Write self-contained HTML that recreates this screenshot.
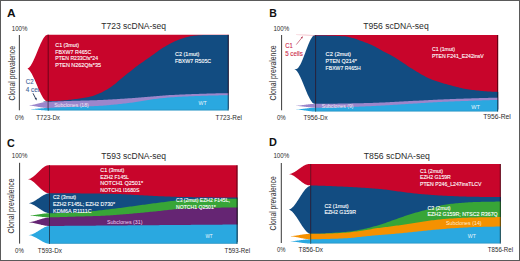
<!DOCTYPE html>
<html><head><meta charset="utf-8"><style>
html,body{margin:0;padding:0;background:#fff;}
svg{display:block;font-family:"Liberation Sans",sans-serif;}
</style></head><body>
<svg width="520" height="261" viewBox="0 0 520 261">
<rect x="0" y="0" width="520" height="261" fill="#fff"/>
<text x="6.9" y="16.6" font-size="11.2" fill="#111" font-weight="bold" text-anchor="start" textLength="8.6" lengthAdjust="spacingAndGlyphs">A</text>
<text x="11.8" y="30.6" font-size="7" fill="#2b2b2b" font-weight="normal" text-anchor="start" textLength="15.7" lengthAdjust="spacingAndGlyphs">100%</text>
<text x="101.2" y="28.8" font-size="8.4" fill="#2b2b2b" font-weight="normal" text-anchor="start" textLength="64.9" lengthAdjust="spacingAndGlyphs">T723 scDNA-seq</text>
<rect x="18.85" y="35" width="1" height="75.3" fill="#3a3a3a"/>
<text transform="translate(14.6,73.25) rotate(-90)" x="0" y="0" font-size="8.2" fill="#2b2b2b" text-anchor="middle" textLength="54.5" lengthAdjust="spacingAndGlyphs">Clonal prevalence</text>
<text x="15" y="119.6" font-size="6.6" fill="#2b2b2b" font-weight="normal" text-anchor="start" textLength="8.8" lengthAdjust="spacingAndGlyphs">0%</text>
<text x="36.2" y="119.6" font-size="6.6" fill="#2b2b2b" font-weight="normal" text-anchor="start" textLength="23.8" lengthAdjust="spacingAndGlyphs">T723-Dx</text>
<text x="215.6" y="119.7" font-size="6.6" fill="#2b2b2b" font-weight="normal" text-anchor="start" textLength="26.3" lengthAdjust="spacingAndGlyphs">T723-Rel</text>
<text x="25.8" y="84.0" font-size="6.6" fill="#41649a" font-weight="normal" text-anchor="start" textLength="7.8" lengthAdjust="spacingAndGlyphs" stroke="#41649a" stroke-width="0.12">C2</text>
<text x="25.8" y="92.1" font-size="6.6" fill="#41649a" font-weight="normal" text-anchor="start" textLength="18.0" lengthAdjust="spacingAndGlyphs" stroke="#41649a" stroke-width="0.12">4 cells</text>
<line x1="33.0" y1="93.3" x2="35.8" y2="98.8" stroke="#1b2a4a" stroke-width="0.9"/>
<polygon points="36.6,100.6 34.6,98.6 36.6,97.7" fill="#1b2a4a"/>
<polygon points="28.20,109.20 28.71,109.19 29.21,109.18 29.72,109.17 30.22,109.15 30.73,109.13 31.23,109.11 31.74,109.08 32.24,109.05 32.75,109.02 33.25,108.99 33.76,108.95 34.26,108.91 34.77,108.88 35.27,108.84 35.78,108.79 36.28,108.75 36.79,108.71 37.29,108.67 37.80,108.62 38.30,108.58 38.81,108.53 39.31,108.49 39.82,108.45 40.32,108.41 40.83,108.36 41.33,108.32 41.84,108.29 42.34,108.25 42.85,108.21 43.35,108.18 43.86,108.15 44.36,108.12 44.87,108.09 45.37,108.07 45.88,108.05 46.38,108.03 46.89,108.02 47.39,108.01 47.90,108.00 48.40,108.00 48.40,110.50 47.90,110.50 47.39,110.49 46.89,110.48 46.38,110.47 45.88,110.45 45.37,110.43 44.87,110.40 44.36,110.37 43.86,110.34 43.35,110.31 42.85,110.27 42.34,110.23 41.84,110.19 41.33,110.15 40.83,110.11 40.32,110.06 39.82,110.01 39.31,109.97 38.81,109.92 38.30,109.87 37.80,109.83 37.29,109.78 36.79,109.73 36.28,109.69 35.78,109.64 35.27,109.59 34.77,109.55 34.26,109.51 33.76,109.47 33.25,109.43 32.75,109.39 32.24,109.36 31.74,109.33 31.23,109.30 30.73,109.27 30.22,109.25 29.72,109.23 29.21,109.22 28.71,109.21 28.20,109.20" fill="#2aa8e0"/>
<polygon points="27.60,105.50 28.12,105.48 28.64,105.45 29.16,105.40 29.68,105.35 30.20,105.29 30.72,105.21 31.24,105.13 31.76,105.04 32.28,104.95 32.81,104.84 33.33,104.73 33.85,104.62 34.37,104.50 34.89,104.38 35.41,104.25 35.93,104.12 36.45,103.99 36.97,103.85 37.49,103.72 38.01,103.58 38.53,103.45 39.05,103.31 39.57,103.18 40.09,103.05 40.61,102.92 41.13,102.80 41.65,102.68 42.17,102.57 42.69,102.46 43.22,102.35 43.74,102.26 44.26,102.17 44.78,102.09 45.30,102.01 45.82,101.95 46.34,101.90 46.86,101.85 47.38,101.82 47.90,101.80 48.40,101.80 48.40,108.00 47.90,108.00 47.38,107.99 46.86,107.96 46.34,107.94 45.82,107.90 45.30,107.86 44.78,107.81 44.26,107.75 43.74,107.69 43.22,107.63 42.69,107.56 42.17,107.48 41.65,107.40 41.13,107.32 40.61,107.24 40.09,107.15 39.57,107.07 39.05,106.98 38.53,106.89 38.01,106.80 37.49,106.70 36.97,106.61 36.45,106.52 35.93,106.43 35.41,106.35 34.89,106.26 34.37,106.18 33.85,106.10 33.33,106.02 32.81,105.94 32.28,105.87 31.76,105.81 31.24,105.75 30.72,105.69 30.20,105.64 29.68,105.60 29.16,105.56 28.64,105.54 28.12,105.51 27.60,105.50" fill="#9c86cb"/>
<polygon points="40.00,101.50 40.20,101.50 40.41,101.50 40.61,101.49 40.81,101.49 41.01,101.48 41.22,101.48 41.42,101.47 41.62,101.46 41.82,101.46 42.03,101.45 42.23,101.44 42.43,101.43 42.63,101.42 42.84,101.41 43.04,101.40 43.24,101.39 43.44,101.38 43.65,101.37 43.85,101.36 44.05,101.34 44.25,101.33 44.46,101.32 44.66,101.31 44.86,101.30 45.06,101.29 45.27,101.28 45.47,101.27 45.67,101.26 45.87,101.25 46.08,101.24 46.28,101.24 46.48,101.23 46.68,101.22 46.89,101.22 47.09,101.21 47.29,101.21 47.49,101.20 47.70,101.20 47.90,101.20 48.40,101.20 48.40,101.80 47.90,101.80 47.70,101.80 47.49,101.80 47.29,101.79 47.09,101.79 46.89,101.78 46.68,101.78 46.48,101.77 46.28,101.76 46.08,101.76 45.87,101.75 45.67,101.74 45.47,101.73 45.27,101.72 45.06,101.71 44.86,101.70 44.66,101.69 44.46,101.68 44.25,101.67 44.05,101.66 43.85,101.64 43.65,101.63 43.44,101.62 43.24,101.61 43.04,101.60 42.84,101.59 42.63,101.58 42.43,101.57 42.23,101.56 42.03,101.55 41.82,101.54 41.62,101.54 41.42,101.53 41.22,101.52 41.01,101.52 40.81,101.51 40.61,101.51 40.41,101.50 40.20,101.50 40.00,101.50" fill="#124c81"/>
<polygon points="27.40,68.50 27.91,68.31 28.42,68.02 28.92,67.63 29.43,67.14 29.94,66.55 30.45,65.89 30.95,65.15 31.46,64.33 31.97,63.45 32.48,62.50 32.98,61.50 33.49,60.45 34.00,59.36 34.51,58.23 35.02,57.07 35.52,55.88 36.03,54.67 36.54,53.45 37.05,52.22 37.55,50.98 38.06,49.75 38.57,48.53 39.08,47.32 39.58,46.13 40.09,44.97 40.60,43.84 41.11,42.75 41.62,41.70 42.12,40.70 42.63,39.75 43.14,38.87 43.65,38.05 44.15,37.31 44.66,36.65 45.17,36.06 45.68,35.57 46.18,35.18 46.69,34.89 47.20,34.70 48.40,34.70 48.40,101.20 46.30,101.20 45.82,100.90 45.33,100.52 44.85,100.06 44.36,99.52 43.88,98.91 43.39,98.23 42.91,97.49 42.42,96.69 41.94,95.84 41.45,94.94 40.97,94.00 40.48,93.01 40.00,92.00 39.52,90.95 39.03,89.87 38.55,88.78 38.06,87.67 37.58,86.55 37.09,85.42 36.61,84.28 36.12,83.15 35.64,82.03 35.15,80.92 34.67,79.83 34.18,78.75 33.70,77.70 33.22,76.69 32.73,75.70 32.25,74.76 31.76,73.86 31.28,73.01 30.79,72.21 30.31,71.47 29.82,70.79 29.34,70.18 28.85,69.64 28.37,69.18 27.88,68.80 27.40,68.50" fill="#c8052b"/>
<polygon points="47.90,34.70 49.42,34.70 50.94,34.70 52.46,34.70 53.97,34.70 55.49,34.70 57.01,34.70 58.53,34.70 60.05,34.70 61.57,34.70 63.08,34.70 64.60,34.70 66.12,34.70 67.64,34.70 69.16,34.70 70.68,34.70 72.20,34.70 73.71,34.70 75.23,34.70 76.75,34.70 78.27,34.70 79.79,34.70 81.31,34.70 82.83,34.70 84.34,34.70 85.86,34.70 87.38,34.70 88.90,34.70 90.42,34.70 91.94,34.70 93.45,34.70 94.97,34.70 96.49,34.70 98.01,34.70 99.53,34.70 101.05,34.70 102.57,34.70 104.08,34.70 105.60,34.70 107.12,34.70 108.64,34.70 110.16,34.70 111.68,34.70 113.19,34.70 114.71,34.70 116.23,34.70 117.75,34.70 119.27,34.70 120.79,34.70 122.31,34.70 123.82,34.70 125.34,34.70 126.86,34.70 128.38,34.70 129.90,34.70 131.42,34.70 132.94,34.70 134.45,34.70 135.97,34.70 137.49,34.70 139.01,34.70 140.53,34.70 142.05,34.70 143.56,34.70 145.08,34.70 146.60,34.70 148.12,34.70 149.64,34.70 151.16,34.70 152.68,34.70 154.19,34.70 155.71,34.70 157.23,34.70 158.75,34.70 160.27,34.70 161.79,34.70 163.31,34.70 164.82,34.70 166.34,34.70 167.86,34.70 169.38,34.70 170.90,34.70 172.42,34.70 173.93,34.70 175.45,34.70 176.97,34.70 178.49,34.70 180.01,34.70 181.53,34.70 183.05,34.70 184.56,34.70 186.08,34.70 187.60,34.70 189.12,34.70 190.64,34.70 192.16,34.70 193.67,34.70 195.19,34.70 196.71,34.70 198.23,34.70 199.75,34.70 201.27,34.70 202.79,34.70 204.30,34.70 205.82,34.70 207.34,34.70 208.86,34.70 210.38,34.70 211.90,34.70 213.42,34.70 214.93,34.70 216.45,34.70 217.97,34.70 219.49,34.70 221.01,34.70 222.53,34.70 224.04,34.70 225.56,34.70 227.08,34.70 228.60,34.70 228.60,108.50 227.08,108.50 225.56,108.50 224.04,108.50 222.53,108.50 221.01,108.50 219.49,108.50 217.97,108.50 216.45,108.50 214.93,108.50 213.42,108.50 211.90,108.50 210.38,108.50 208.86,108.50 207.34,108.50 205.82,108.50 204.30,108.50 202.79,108.50 201.27,108.50 199.75,108.50 198.23,108.50 196.71,108.50 195.19,108.50 193.67,108.50 192.16,108.50 190.64,108.50 189.12,108.50 187.60,108.50 186.08,108.50 184.56,108.50 183.05,108.50 181.53,108.50 180.01,108.50 178.49,108.50 176.97,108.50 175.45,108.50 173.93,108.50 172.42,108.50 170.90,108.50 169.38,108.50 167.86,108.50 166.34,108.50 164.82,108.50 163.31,108.50 161.79,108.50 160.27,108.50 158.75,108.50 157.23,108.50 155.71,108.50 154.19,108.50 152.68,108.50 151.16,108.50 149.64,108.50 148.12,108.50 146.60,108.50 145.08,108.50 143.56,108.50 142.05,108.50 140.53,108.50 139.01,108.50 137.49,108.50 135.97,108.50 134.45,108.50 132.94,108.50 131.42,108.50 129.90,108.50 128.38,108.50 126.86,108.50 125.34,108.50 123.82,108.50 122.31,108.50 120.79,108.50 119.27,108.50 117.75,108.50 116.23,108.50 114.71,108.50 113.19,108.50 111.68,108.50 110.16,108.50 108.64,108.50 107.12,108.50 105.60,108.50 104.08,108.50 102.57,108.50 101.05,108.50 99.53,108.50 98.01,108.50 96.49,108.50 94.97,108.50 93.45,108.50 91.94,108.50 90.42,108.50 88.90,108.50 87.38,108.50 85.86,108.50 84.34,108.50 82.83,108.50 81.31,108.50 79.79,108.50 78.27,108.50 76.75,108.50 75.23,108.50 73.71,108.50 72.20,108.50 70.68,108.50 69.16,108.50 67.64,108.50 66.12,108.50 64.60,108.50 63.08,108.50 61.57,108.50 60.05,108.50 58.53,108.50 57.01,108.50 55.49,108.50 53.97,108.50 52.46,108.50 50.94,108.50 49.42,108.50 47.90,108.50" fill="#c8052b"/>
<polygon points="47.90,101.20 49.42,101.16 50.94,101.11 52.46,101.05 53.97,100.98 55.49,100.90 57.01,100.82 58.53,100.73 60.05,100.63 61.57,100.53 63.08,100.42 64.60,100.30 66.12,100.16 67.64,100.01 69.16,99.84 70.68,99.67 72.20,99.49 73.71,99.30 75.23,99.10 76.75,98.90 78.27,98.69 79.79,98.48 81.31,98.26 82.83,98.02 84.34,97.76 85.86,97.49 87.38,97.20 88.90,96.88 90.42,96.54 91.94,96.16 93.45,95.70 94.97,95.17 96.49,94.58 98.01,93.96 99.53,93.31 101.05,92.63 102.57,91.89 104.08,91.11 105.60,90.27 107.12,89.39 108.64,88.46 110.16,87.50 111.68,86.46 113.19,85.33 114.71,84.14 116.23,82.90 117.75,81.62 119.27,80.33 120.79,79.05 122.31,77.79 123.82,76.56 125.34,75.34 126.86,74.10 128.38,72.86 129.90,71.63 131.42,70.40 132.94,69.18 134.45,67.99 135.97,66.82 137.49,65.69 139.01,64.58 140.53,63.50 142.05,62.43 143.56,61.38 145.08,60.33 146.60,59.29 148.12,58.25 149.64,57.19 151.16,56.12 152.68,55.03 154.19,53.91 155.71,52.80 157.23,51.69 158.75,50.60 160.27,49.54 161.79,48.53 163.31,47.58 164.82,46.67 166.34,45.77 167.86,44.90 169.38,44.04 170.90,43.23 172.42,42.44 173.93,41.71 175.45,41.03 176.97,40.41 178.49,39.83 180.01,39.26 181.53,38.72 183.05,38.20 184.56,37.72 186.08,37.28 187.60,36.88 189.12,36.54 190.64,36.26 192.16,36.01 193.67,35.79 195.19,35.60 196.71,35.44 198.23,35.32 199.75,35.23 201.27,35.14 202.79,35.07 204.30,35.02 205.82,35.00 207.34,35.00 208.86,35.00 210.38,35.00 211.90,35.00 213.42,35.00 214.93,35.00 216.45,35.00 217.97,35.00 219.49,35.00 221.01,35.00 222.53,35.00 224.04,35.00 225.56,35.00 227.08,35.00 228.60,35.00 228.60,108.50 227.08,108.50 225.56,108.50 224.04,108.50 222.53,108.50 221.01,108.50 219.49,108.50 217.97,108.50 216.45,108.50 214.93,108.50 213.42,108.50 211.90,108.50 210.38,108.50 208.86,108.50 207.34,108.50 205.82,108.50 204.30,108.50 202.79,108.50 201.27,108.50 199.75,108.50 198.23,108.50 196.71,108.50 195.19,108.50 193.67,108.50 192.16,108.50 190.64,108.50 189.12,108.50 187.60,108.50 186.08,108.50 184.56,108.50 183.05,108.50 181.53,108.50 180.01,108.50 178.49,108.50 176.97,108.50 175.45,108.50 173.93,108.50 172.42,108.50 170.90,108.50 169.38,108.50 167.86,108.50 166.34,108.50 164.82,108.50 163.31,108.50 161.79,108.50 160.27,108.50 158.75,108.50 157.23,108.50 155.71,108.50 154.19,108.50 152.68,108.50 151.16,108.50 149.64,108.50 148.12,108.50 146.60,108.50 145.08,108.50 143.56,108.50 142.05,108.50 140.53,108.50 139.01,108.50 137.49,108.50 135.97,108.50 134.45,108.50 132.94,108.50 131.42,108.50 129.90,108.50 128.38,108.50 126.86,108.50 125.34,108.50 123.82,108.50 122.31,108.50 120.79,108.50 119.27,108.50 117.75,108.50 116.23,108.50 114.71,108.50 113.19,108.50 111.68,108.50 110.16,108.50 108.64,108.50 107.12,108.50 105.60,108.50 104.08,108.50 102.57,108.50 101.05,108.50 99.53,108.50 98.01,108.50 96.49,108.50 94.97,108.50 93.45,108.50 91.94,108.50 90.42,108.50 88.90,108.50 87.38,108.50 85.86,108.50 84.34,108.50 82.83,108.50 81.31,108.50 79.79,108.50 78.27,108.50 76.75,108.50 75.23,108.50 73.71,108.50 72.20,108.50 70.68,108.50 69.16,108.50 67.64,108.50 66.12,108.50 64.60,108.50 63.08,108.50 61.57,108.50 60.05,108.50 58.53,108.50 57.01,108.50 55.49,108.50 53.97,108.50 52.46,108.50 50.94,108.50 49.42,108.50 47.90,108.50" fill="#124c81"/>
<polygon points="47.90,101.80 49.42,101.73 50.94,101.66 52.46,101.59 53.97,101.53 55.49,101.46 57.01,101.40 58.53,101.34 60.05,101.27 61.57,101.22 63.08,101.16 64.60,101.11 66.12,101.06 67.64,101.01 69.16,100.96 70.68,100.91 72.20,100.87 73.71,100.82 75.23,100.78 76.75,100.74 78.27,100.70 79.79,100.65 81.31,100.61 82.83,100.57 84.34,100.53 85.86,100.48 87.38,100.44 88.90,100.39 90.42,100.35 91.94,100.30 93.45,100.25 94.97,100.19 96.49,100.14 98.01,100.08 99.53,100.02 101.05,99.96 102.57,99.89 104.08,99.82 105.60,99.74 107.12,99.67 108.64,99.59 110.16,99.50 111.68,99.42 113.19,99.33 114.71,99.24 116.23,99.15 117.75,99.05 119.27,98.95 120.79,98.86 122.31,98.76 123.82,98.66 125.34,98.56 126.86,98.45 128.38,98.35 129.90,98.25 131.42,98.14 132.94,98.04 134.45,97.94 135.97,97.83 137.49,97.72 139.01,97.61 140.53,97.49 142.05,97.36 143.56,97.23 145.08,97.10 146.60,96.97 148.12,96.84 149.64,96.70 151.16,96.57 152.68,96.43 154.19,96.30 155.71,96.16 157.23,96.03 158.75,95.90 160.27,95.78 161.79,95.65 163.31,95.54 164.82,95.42 166.34,95.32 167.86,95.22 169.38,95.12 170.90,95.04 172.42,94.96 173.93,94.88 175.45,94.81 176.97,94.74 178.49,94.66 180.01,94.60 181.53,94.53 183.05,94.47 184.56,94.40 186.08,94.34 187.60,94.28 189.12,94.22 190.64,94.17 192.16,94.11 193.67,94.06 195.19,94.00 196.71,93.95 198.23,93.90 199.75,93.85 201.27,93.80 202.79,93.76 204.30,93.71 205.82,93.66 207.34,93.62 208.86,93.58 210.38,93.53 211.90,93.49 213.42,93.45 214.93,93.41 216.45,93.37 217.97,93.33 219.49,93.30 221.01,93.26 222.53,93.23 224.04,93.19 225.56,93.16 227.08,93.13 228.60,93.10 228.60,108.50 227.08,108.50 225.56,108.50 224.04,108.50 222.53,108.50 221.01,108.50 219.49,108.50 217.97,108.50 216.45,108.50 214.93,108.50 213.42,108.50 211.90,108.50 210.38,108.50 208.86,108.50 207.34,108.50 205.82,108.50 204.30,108.50 202.79,108.50 201.27,108.50 199.75,108.50 198.23,108.50 196.71,108.50 195.19,108.50 193.67,108.50 192.16,108.50 190.64,108.50 189.12,108.50 187.60,108.50 186.08,108.50 184.56,108.50 183.05,108.50 181.53,108.50 180.01,108.50 178.49,108.50 176.97,108.50 175.45,108.50 173.93,108.50 172.42,108.50 170.90,108.50 169.38,108.50 167.86,108.50 166.34,108.50 164.82,108.50 163.31,108.50 161.79,108.50 160.27,108.50 158.75,108.50 157.23,108.50 155.71,108.50 154.19,108.50 152.68,108.50 151.16,108.50 149.64,108.50 148.12,108.50 146.60,108.50 145.08,108.50 143.56,108.50 142.05,108.50 140.53,108.50 139.01,108.50 137.49,108.50 135.97,108.50 134.45,108.50 132.94,108.50 131.42,108.50 129.90,108.50 128.38,108.50 126.86,108.50 125.34,108.50 123.82,108.50 122.31,108.50 120.79,108.50 119.27,108.50 117.75,108.50 116.23,108.50 114.71,108.50 113.19,108.50 111.68,108.50 110.16,108.50 108.64,108.50 107.12,108.50 105.60,108.50 104.08,108.50 102.57,108.50 101.05,108.50 99.53,108.50 98.01,108.50 96.49,108.50 94.97,108.50 93.45,108.50 91.94,108.50 90.42,108.50 88.90,108.50 87.38,108.50 85.86,108.50 84.34,108.50 82.83,108.50 81.31,108.50 79.79,108.50 78.27,108.50 76.75,108.50 75.23,108.50 73.71,108.50 72.20,108.50 70.68,108.50 69.16,108.50 67.64,108.50 66.12,108.50 64.60,108.50 63.08,108.50 61.57,108.50 60.05,108.50 58.53,108.50 57.01,108.50 55.49,108.50 53.97,108.50 52.46,108.50 50.94,108.50 49.42,108.50 47.90,108.50" fill="#9c86cb"/>
<polygon points="47.90,108.00 49.42,107.92 50.94,107.84 52.46,107.77 53.97,107.69 55.49,107.61 57.01,107.54 58.53,107.47 60.05,107.40 61.57,107.33 63.08,107.27 64.60,107.21 66.12,107.15 67.64,107.09 69.16,107.03 70.68,106.98 72.20,106.93 73.71,106.88 75.23,106.82 76.75,106.77 78.27,106.72 79.79,106.67 81.31,106.62 82.83,106.57 84.34,106.51 85.86,106.45 87.38,106.40 88.90,106.34 90.42,106.27 91.94,106.21 93.45,106.14 94.97,106.07 96.49,105.99 98.01,105.91 99.53,105.83 101.05,105.74 102.57,105.64 104.08,105.52 105.60,105.40 107.12,105.28 108.64,105.14 110.16,105.00 111.68,104.85 113.19,104.70 114.71,104.55 116.23,104.39 117.75,104.23 119.27,104.08 120.79,103.92 122.31,103.76 123.82,103.59 125.34,103.42 126.86,103.24 128.38,103.06 129.90,102.87 131.42,102.68 132.94,102.48 134.45,102.27 135.97,102.06 137.49,101.83 139.01,101.58 140.53,101.32 142.05,101.05 143.56,100.78 145.08,100.51 146.60,100.24 148.12,99.98 149.64,99.73 151.16,99.50 152.68,99.28 154.19,99.09 155.71,98.90 157.23,98.71 158.75,98.54 160.27,98.36 161.79,98.19 163.31,98.03 164.82,97.88 166.34,97.74 167.86,97.60 169.38,97.47 170.90,97.35 172.42,97.24 173.93,97.14 175.45,97.04 176.97,96.94 178.49,96.85 180.01,96.76 181.53,96.68 183.05,96.60 184.56,96.53 186.08,96.46 187.60,96.39 189.12,96.33 190.64,96.27 192.16,96.21 193.67,96.15 195.19,96.09 196.71,96.04 198.23,95.98 199.75,95.93 201.27,95.87 202.79,95.82 204.30,95.77 205.82,95.72 207.34,95.67 208.86,95.62 210.38,95.58 211.90,95.53 213.42,95.49 214.93,95.45 216.45,95.41 217.97,95.38 219.49,95.34 221.01,95.31 222.53,95.29 224.04,95.26 225.56,95.24 227.08,95.22 228.60,95.20 228.60,110.50 227.08,110.50 225.56,110.50 224.04,110.50 222.53,110.50 221.01,110.50 219.49,110.50 217.97,110.50 216.45,110.50 214.93,110.50 213.42,110.50 211.90,110.50 210.38,110.50 208.86,110.50 207.34,110.50 205.82,110.50 204.30,110.50 202.79,110.50 201.27,110.50 199.75,110.50 198.23,110.50 196.71,110.50 195.19,110.50 193.67,110.50 192.16,110.50 190.64,110.50 189.12,110.50 187.60,110.50 186.08,110.50 184.56,110.50 183.05,110.50 181.53,110.50 180.01,110.50 178.49,110.50 176.97,110.50 175.45,110.50 173.93,110.50 172.42,110.50 170.90,110.50 169.38,110.50 167.86,110.50 166.34,110.50 164.82,110.50 163.31,110.50 161.79,110.50 160.27,110.50 158.75,110.50 157.23,110.50 155.71,110.50 154.19,110.50 152.68,110.50 151.16,110.50 149.64,110.50 148.12,110.50 146.60,110.50 145.08,110.50 143.56,110.50 142.05,110.50 140.53,110.50 139.01,110.50 137.49,110.50 135.97,110.50 134.45,110.50 132.94,110.50 131.42,110.50 129.90,110.50 128.38,110.50 126.86,110.50 125.34,110.50 123.82,110.50 122.31,110.50 120.79,110.50 119.27,110.50 117.75,110.50 116.23,110.50 114.71,110.50 113.19,110.50 111.68,110.50 110.16,110.50 108.64,110.50 107.12,110.50 105.60,110.50 104.08,110.50 102.57,110.50 101.05,110.50 99.53,110.50 98.01,110.50 96.49,110.50 94.97,110.50 93.45,110.50 91.94,110.50 90.42,110.50 88.90,110.50 87.38,110.50 85.86,110.50 84.34,110.50 82.83,110.50 81.31,110.50 79.79,110.50 78.27,110.50 76.75,110.50 75.23,110.50 73.71,110.50 72.20,110.50 70.68,110.50 69.16,110.50 67.64,110.50 66.12,110.50 64.60,110.50 63.08,110.50 61.57,110.50 60.05,110.50 58.53,110.50 57.01,110.50 55.49,110.50 53.97,110.50 52.46,110.50 50.94,110.50 49.42,110.50 47.90,110.50" fill="#2aa8e0"/>
<rect x="47.7" y="34.7" width="1" height="76.2" fill="#000" fill-opacity="0.45"/>
<rect x="47.9" y="109.6" width="180.1" height="0.9" fill="#000" fill-opacity="0.12"/>
<rect x="227.7" y="34.7" width="1" height="75.8" fill="#000" fill-opacity="0.55"/>
<text x="55.3" y="46.6" font-size="5.6" fill="#ffffff" font-weight="normal" text-anchor="start" textLength="23.7" lengthAdjust="spacingAndGlyphs" stroke="#ffffff" stroke-width="0.12">C1 (3mut)</text>
<text x="55.3" y="53.5" font-size="5.6" fill="#ffffff" font-weight="normal" text-anchor="start" textLength="36" lengthAdjust="spacingAndGlyphs" stroke="#ffffff" stroke-width="0.12">FBXW7 R465C</text>
<text x="55.3" y="60.4" font-size="5.6" fill="#ffffff" font-weight="normal" text-anchor="start" textLength="42.7" lengthAdjust="spacingAndGlyphs" stroke="#ffffff" stroke-width="0.12">PTEN R233Cfs*24</text>
<text x="55.3" y="67.0" font-size="5.6" fill="#ffffff" font-weight="normal" text-anchor="start" textLength="45.7" lengthAdjust="spacingAndGlyphs" stroke="#ffffff" stroke-width="0.12">PTEN N262Qfs*35</text>
<text x="175" y="56" font-size="5.6" fill="#ffffff" font-weight="normal" text-anchor="start" textLength="24.4" lengthAdjust="spacingAndGlyphs" stroke="#ffffff" stroke-width="0.12">C2 (1mut)</text>
<text x="175" y="62.7" font-size="5.6" fill="#ffffff" font-weight="normal" text-anchor="start" textLength="36.2" lengthAdjust="spacingAndGlyphs" stroke="#ffffff" stroke-width="0.12">FBXW7 R505C</text>
<text x="54.2" y="107.2" font-size="5.3" fill="#eee6f6" font-weight="normal" text-anchor="start" textLength="34.6" lengthAdjust="spacingAndGlyphs">Subclones (18)</text>
<text x="198.6" y="105.4" font-size="6.0" fill="#e8f6fc" font-weight="normal" text-anchor="start" textLength="8.1" lengthAdjust="spacingAndGlyphs">WT</text>
<text x="269.2" y="16.6" font-size="11.2" fill="#111" font-weight="bold" text-anchor="start" textLength="7.6" lengthAdjust="spacingAndGlyphs">B</text>
<text x="273.4" y="30.6" font-size="7" fill="#2b2b2b" font-weight="normal" text-anchor="start" textLength="15.9" lengthAdjust="spacingAndGlyphs">100%</text>
<text x="363.2" y="28.8" font-size="8.4" fill="#2b2b2b" font-weight="normal" text-anchor="start" textLength="65.5" lengthAdjust="spacingAndGlyphs">T956 scDNA-seq</text>
<rect x="281.1" y="35" width="1" height="75.3" fill="#3a3a3a"/>
<text transform="translate(275.5,72.9) rotate(-90)" x="0" y="0" font-size="8.2" fill="#2b2b2b" text-anchor="middle" textLength="55.2" lengthAdjust="spacingAndGlyphs">Clonal prevalence</text>
<text x="276.9" y="119.6" font-size="6.6" fill="#2b2b2b" font-weight="normal" text-anchor="start" textLength="8.8" lengthAdjust="spacingAndGlyphs">0%</text>
<text x="303.5" y="119.6" font-size="6.6" fill="#2b2b2b" font-weight="normal" text-anchor="start" textLength="24.2" lengthAdjust="spacingAndGlyphs">T956-Dx</text>
<text x="483.2" y="119.1" font-size="6.6" fill="#2b2b2b" font-weight="normal" text-anchor="start" textLength="27.6" lengthAdjust="spacingAndGlyphs">T956-Rel</text>
<text x="285.2" y="47.9" font-size="6.7" fill="#cc2848" font-weight="normal" text-anchor="start" textLength="7.5" lengthAdjust="spacingAndGlyphs" stroke="#cc2848" stroke-width="0.12">C1</text>
<text x="285.2" y="55.9" font-size="6.7" fill="#cc2848" font-weight="normal" text-anchor="start" textLength="17.6" lengthAdjust="spacingAndGlyphs" stroke="#cc2848" stroke-width="0.12">5 cells</text>
<line x1="296.3" y1="44.6" x2="301.8" y2="37.8" stroke="#b0203e" stroke-width="0.6"/>
<polygon points="303,36.3 300.8,37.4 302.2,38.6" fill="#b0203e"/>
<polygon points="295.00,109.40 295.52,109.39 296.05,109.38 296.57,109.36 297.09,109.33 297.62,109.30 298.14,109.27 298.66,109.23 299.18,109.19 299.71,109.15 300.23,109.10 300.75,109.05 301.28,109.00 301.80,108.94 302.32,108.88 302.85,108.83 303.37,108.77 303.89,108.70 304.42,108.64 304.94,108.58 305.46,108.52 305.98,108.46 306.51,108.40 307.03,108.33 307.55,108.27 308.08,108.22 308.60,108.16 309.12,108.10 309.65,108.05 310.17,108.00 310.69,107.95 311.22,107.91 311.74,107.87 312.26,107.83 312.78,107.80 313.31,107.77 313.83,107.74 314.35,107.72 314.88,107.71 315.40,107.70 315.90,107.70 315.90,111.60 315.40,111.60 314.88,111.59 314.35,111.57 313.83,111.54 313.31,111.51 312.78,111.47 312.26,111.43 311.74,111.38 311.22,111.33 310.69,111.27 310.17,111.21 309.65,111.14 309.12,111.08 308.60,111.01 308.08,110.93 307.55,110.86 307.03,110.78 306.51,110.70 305.98,110.62 305.46,110.54 304.94,110.46 304.42,110.38 303.89,110.30 303.37,110.22 302.85,110.14 302.32,110.07 301.80,109.99 301.28,109.92 300.75,109.86 300.23,109.79 299.71,109.73 299.18,109.67 298.66,109.62 298.14,109.57 297.62,109.53 297.09,109.49 296.57,109.46 296.05,109.43 295.52,109.41 295.00,109.40" fill="#2aa8e0"/>
<polygon points="294.30,105.80 294.84,105.79 295.38,105.77 295.92,105.75 296.46,105.72 297.01,105.68 297.55,105.65 298.09,105.60 298.63,105.55 299.17,105.50 299.71,105.45 300.25,105.39 300.79,105.32 301.33,105.26 301.87,105.19 302.42,105.12 302.96,105.05 303.50,104.98 304.04,104.91 304.58,104.84 305.12,104.76 305.66,104.69 306.20,104.62 306.74,104.55 307.28,104.48 307.83,104.41 308.37,104.34 308.91,104.28 309.45,104.21 309.99,104.15 310.53,104.10 311.07,104.05 311.61,104.00 312.15,103.95 312.69,103.92 313.24,103.88 313.78,103.85 314.32,103.83 314.86,103.81 315.40,103.80 315.90,103.80 315.90,107.70 315.40,107.70 314.86,107.69 314.32,107.67 313.78,107.65 313.24,107.62 312.69,107.59 312.15,107.55 311.61,107.51 311.07,107.47 310.53,107.42 309.99,107.36 309.45,107.31 308.91,107.25 308.37,107.19 307.83,107.12 307.28,107.06 306.74,106.99 306.20,106.92 305.66,106.85 305.12,106.78 304.58,106.72 304.04,106.65 303.50,106.58 302.96,106.51 302.42,106.44 301.87,106.38 301.33,106.31 300.79,106.25 300.25,106.19 299.71,106.14 299.17,106.08 298.63,106.03 298.09,105.99 297.55,105.95 297.01,105.91 296.46,105.88 295.92,105.85 295.38,105.83 294.84,105.81 294.30,105.80" fill="#9c86cb"/>
<polygon points="296.00,69.00 296.49,68.93 296.97,68.74 297.46,68.43 297.95,68.00 298.44,67.47 298.92,66.83 299.41,66.11 299.90,65.30 300.38,64.40 300.87,63.44 301.36,62.41 301.85,61.32 302.33,60.19 302.82,59.00 303.31,57.78 303.79,56.53 304.28,55.25 304.77,53.96 305.26,52.65 305.74,51.35 306.23,50.04 306.72,48.75 307.21,47.47 307.69,46.22 308.18,45.00 308.67,43.81 309.15,42.68 309.64,41.59 310.13,40.56 310.62,39.60 311.10,38.70 311.59,37.89 312.08,37.17 312.56,36.53 313.05,36.00 313.54,35.57 314.03,35.26 314.51,35.07 315.00,35.00 315.90,35.00 315.90,103.80 314.30,103.80 313.79,103.61 313.27,103.31 312.76,102.90 312.25,102.39 311.74,101.80 311.22,101.11 310.71,100.35 310.20,99.51 309.68,98.60 309.17,97.62 308.66,96.60 308.15,95.52 307.63,94.39 307.12,93.23 306.61,92.03 306.09,90.81 305.58,89.56 305.07,88.30 304.56,87.04 304.04,85.76 303.53,84.50 303.02,83.24 302.51,81.99 301.99,80.77 301.48,79.57 300.97,78.41 300.45,77.28 299.94,76.20 299.43,75.18 298.92,74.20 298.40,73.29 297.89,72.45 297.38,71.69 296.86,71.00 296.35,70.41 295.84,69.90 295.33,69.49 294.81,69.19 294.30,69.00" fill="#124c81"/>
<polygon points="296,34.8 305,34.85 313,35.0 315.4,35.2 315.4,35.7 313,35.5 305,35.2 296,35.0" fill="#e88a9c"/>
<polygon points="315.40,35.00 316.94,35.00 318.47,35.00 320.01,35.00 321.54,35.00 323.08,35.00 324.62,35.00 326.15,35.00 327.69,35.00 329.23,35.00 330.76,35.00 332.30,35.00 333.83,35.00 335.37,35.00 336.91,35.00 338.44,35.00 339.98,35.00 341.51,35.00 343.05,35.00 344.59,35.00 346.12,35.00 347.66,35.00 349.19,35.00 350.73,35.00 352.27,35.00 353.80,35.00 355.34,35.00 356.88,35.00 358.41,35.00 359.95,35.00 361.48,35.00 363.02,35.00 364.56,35.00 366.09,35.00 367.63,35.00 369.16,35.00 370.70,35.00 372.24,35.00 373.77,35.00 375.31,35.00 376.85,35.00 378.38,35.00 379.92,35.00 381.45,35.00 382.99,35.00 384.53,35.00 386.06,35.00 387.60,35.00 389.13,35.00 390.67,35.00 392.21,35.00 393.74,35.00 395.28,35.00 396.82,35.00 398.35,35.00 399.89,35.00 401.42,35.00 402.96,35.00 404.50,35.00 406.03,35.00 407.57,35.00 409.10,35.00 410.64,35.00 412.18,35.00 413.71,35.00 415.25,35.00 416.78,35.00 418.32,35.00 419.86,35.00 421.39,35.00 422.93,35.00 424.47,35.00 426.00,35.00 427.54,35.00 429.07,35.00 430.61,35.00 432.15,35.00 433.68,35.00 435.22,35.00 436.75,35.00 438.29,35.00 439.83,35.00 441.36,35.00 442.90,35.00 444.44,35.00 445.97,35.00 447.51,35.00 449.04,35.00 450.58,35.00 452.12,35.00 453.65,35.00 455.19,35.00 456.72,35.00 458.26,35.00 459.80,35.00 461.33,35.00 462.87,35.00 464.41,35.00 465.94,35.00 467.48,35.00 469.01,35.00 470.55,35.00 472.09,35.00 473.62,35.00 475.16,35.00 476.69,35.00 478.23,35.00 479.77,35.00 481.30,35.00 482.84,35.00 484.37,35.00 485.91,35.00 487.45,35.00 488.98,35.00 490.52,35.00 492.06,35.00 493.59,35.00 495.13,35.00 496.66,35.00 498.20,35.00 498.20,109.60 496.66,109.60 495.13,109.60 493.59,109.60 492.06,109.60 490.52,109.60 488.98,109.60 487.45,109.60 485.91,109.60 484.37,109.60 482.84,109.60 481.30,109.60 479.77,109.60 478.23,109.60 476.69,109.60 475.16,109.60 473.62,109.60 472.09,109.60 470.55,109.60 469.01,109.60 467.48,109.60 465.94,109.60 464.41,109.60 462.87,109.60 461.33,109.60 459.80,109.60 458.26,109.60 456.72,109.60 455.19,109.60 453.65,109.60 452.12,109.60 450.58,109.60 449.04,109.60 447.51,109.60 445.97,109.60 444.44,109.60 442.90,109.60 441.36,109.60 439.83,109.60 438.29,109.60 436.75,109.60 435.22,109.60 433.68,109.60 432.15,109.60 430.61,109.60 429.07,109.60 427.54,109.60 426.00,109.60 424.47,109.60 422.93,109.60 421.39,109.60 419.86,109.60 418.32,109.60 416.78,109.60 415.25,109.60 413.71,109.60 412.18,109.60 410.64,109.60 409.10,109.60 407.57,109.60 406.03,109.60 404.50,109.60 402.96,109.60 401.42,109.60 399.89,109.60 398.35,109.60 396.82,109.60 395.28,109.60 393.74,109.60 392.21,109.60 390.67,109.60 389.13,109.60 387.60,109.60 386.06,109.60 384.53,109.60 382.99,109.60 381.45,109.60 379.92,109.60 378.38,109.60 376.85,109.60 375.31,109.60 373.77,109.60 372.24,109.60 370.70,109.60 369.16,109.60 367.63,109.60 366.09,109.60 364.56,109.60 363.02,109.60 361.48,109.60 359.95,109.60 358.41,109.60 356.88,109.60 355.34,109.60 353.80,109.60 352.27,109.60 350.73,109.60 349.19,109.60 347.66,109.60 346.12,109.60 344.59,109.60 343.05,109.60 341.51,109.60 339.98,109.60 338.44,109.60 336.91,109.60 335.37,109.60 333.83,109.60 332.30,109.60 330.76,109.60 329.23,109.60 327.69,109.60 326.15,109.60 324.62,109.60 323.08,109.60 321.54,109.60 320.01,109.60 318.47,109.60 316.94,109.60 315.40,109.60" fill="#c8052b"/>
<polygon points="315.40,35.50 316.94,35.50 318.47,35.51 320.01,35.53 321.54,35.55 323.08,35.57 324.62,35.59 326.15,35.62 327.69,35.65 329.23,35.68 330.76,35.72 332.30,35.75 333.83,35.80 335.37,35.85 336.91,35.91 338.44,35.98 339.98,36.06 341.51,36.15 343.05,36.25 344.59,36.37 346.12,36.57 347.66,36.83 349.19,37.15 350.73,37.50 352.27,37.88 353.80,38.28 355.34,38.75 356.88,39.31 358.41,39.90 359.95,40.48 361.48,41.04 363.02,41.59 364.56,42.14 366.09,42.71 367.63,43.29 369.16,43.90 370.70,44.55 372.24,45.24 373.77,46.01 375.31,46.83 376.85,47.70 378.38,48.58 379.92,49.47 381.45,50.35 382.99,51.19 384.53,52.00 386.06,52.78 387.60,53.55 389.13,54.32 390.67,55.11 392.21,55.92 393.74,56.76 395.28,57.67 396.82,58.63 398.35,59.64 399.89,60.68 401.42,61.71 402.96,62.75 404.50,63.80 406.03,64.87 407.57,65.92 409.10,66.94 410.64,67.92 412.18,68.87 413.71,69.80 415.25,70.73 416.78,71.65 418.32,72.59 419.86,73.52 421.39,74.43 422.93,75.30 424.47,76.12 426.00,76.93 427.54,77.71 429.07,78.43 430.61,79.09 432.15,79.68 433.68,80.24 435.22,80.77 436.75,81.27 438.29,81.76 439.83,82.25 441.36,82.72 442.90,83.19 444.44,83.64 445.97,84.09 447.51,84.52 449.04,84.94 450.58,85.36 452.12,85.76 453.65,86.17 455.19,86.58 456.72,86.97 458.26,87.36 459.80,87.72 461.33,88.06 462.87,88.38 464.41,88.66 465.94,88.93 467.48,89.19 469.01,89.44 470.55,89.67 472.09,89.88 473.62,90.08 475.16,90.27 476.69,90.44 478.23,90.61 479.77,90.77 481.30,90.92 482.84,91.06 484.37,91.18 485.91,91.29 487.45,91.39 488.98,91.49 490.52,91.58 492.06,91.66 493.59,91.73 495.13,91.80 496.66,91.86 498.20,91.90 498.20,109.60 496.66,109.60 495.13,109.60 493.59,109.60 492.06,109.60 490.52,109.60 488.98,109.60 487.45,109.60 485.91,109.60 484.37,109.60 482.84,109.60 481.30,109.60 479.77,109.60 478.23,109.60 476.69,109.60 475.16,109.60 473.62,109.60 472.09,109.60 470.55,109.60 469.01,109.60 467.48,109.60 465.94,109.60 464.41,109.60 462.87,109.60 461.33,109.60 459.80,109.60 458.26,109.60 456.72,109.60 455.19,109.60 453.65,109.60 452.12,109.60 450.58,109.60 449.04,109.60 447.51,109.60 445.97,109.60 444.44,109.60 442.90,109.60 441.36,109.60 439.83,109.60 438.29,109.60 436.75,109.60 435.22,109.60 433.68,109.60 432.15,109.60 430.61,109.60 429.07,109.60 427.54,109.60 426.00,109.60 424.47,109.60 422.93,109.60 421.39,109.60 419.86,109.60 418.32,109.60 416.78,109.60 415.25,109.60 413.71,109.60 412.18,109.60 410.64,109.60 409.10,109.60 407.57,109.60 406.03,109.60 404.50,109.60 402.96,109.60 401.42,109.60 399.89,109.60 398.35,109.60 396.82,109.60 395.28,109.60 393.74,109.60 392.21,109.60 390.67,109.60 389.13,109.60 387.60,109.60 386.06,109.60 384.53,109.60 382.99,109.60 381.45,109.60 379.92,109.60 378.38,109.60 376.85,109.60 375.31,109.60 373.77,109.60 372.24,109.60 370.70,109.60 369.16,109.60 367.63,109.60 366.09,109.60 364.56,109.60 363.02,109.60 361.48,109.60 359.95,109.60 358.41,109.60 356.88,109.60 355.34,109.60 353.80,109.60 352.27,109.60 350.73,109.60 349.19,109.60 347.66,109.60 346.12,109.60 344.59,109.60 343.05,109.60 341.51,109.60 339.98,109.60 338.44,109.60 336.91,109.60 335.37,109.60 333.83,109.60 332.30,109.60 330.76,109.60 329.23,109.60 327.69,109.60 326.15,109.60 324.62,109.60 323.08,109.60 321.54,109.60 320.01,109.60 318.47,109.60 316.94,109.60 315.40,109.60" fill="#124c81"/>
<polygon points="315.40,103.80 316.94,103.80 318.47,103.80 320.01,103.79 321.54,103.78 323.08,103.78 324.62,103.77 326.15,103.75 327.69,103.74 329.23,103.73 330.76,103.71 332.30,103.69 333.83,103.67 335.37,103.65 336.91,103.63 338.44,103.61 339.98,103.59 341.51,103.56 343.05,103.54 344.59,103.51 346.12,103.48 347.66,103.46 349.19,103.43 350.73,103.40 352.27,103.37 353.80,103.34 355.34,103.30 356.88,103.27 358.41,103.24 359.95,103.21 361.48,103.18 363.02,103.14 364.56,103.11 366.09,103.08 367.63,103.04 369.16,102.99 370.70,102.95 372.24,102.90 373.77,102.85 375.31,102.79 376.85,102.73 378.38,102.67 379.92,102.60 381.45,102.54 382.99,102.47 384.53,102.39 386.06,102.32 387.60,102.24 389.13,102.17 390.67,102.09 392.21,102.01 393.74,101.93 395.28,101.84 396.82,101.76 398.35,101.68 399.89,101.60 401.42,101.51 402.96,101.43 404.50,101.35 406.03,101.26 407.57,101.18 409.10,101.10 410.64,101.02 412.18,100.94 413.71,100.86 415.25,100.79 416.78,100.71 418.32,100.63 419.86,100.55 421.39,100.47 422.93,100.38 424.47,100.30 426.00,100.21 427.54,100.13 429.07,100.05 430.61,99.96 432.15,99.88 433.68,99.80 435.22,99.72 436.75,99.65 438.29,99.58 439.83,99.51 441.36,99.44 442.90,99.38 444.44,99.31 445.97,99.25 447.51,99.19 449.04,99.13 450.58,99.07 452.12,99.01 453.65,98.96 455.19,98.90 456.72,98.85 458.26,98.79 459.80,98.74 461.33,98.69 462.87,98.63 464.41,98.58 465.94,98.53 467.48,98.48 469.01,98.43 470.55,98.38 472.09,98.33 473.62,98.29 475.16,98.24 476.69,98.19 478.23,98.14 479.77,98.10 481.30,98.05 482.84,98.01 484.37,97.97 485.91,97.92 487.45,97.88 488.98,97.84 490.52,97.80 492.06,97.76 493.59,97.72 495.13,97.68 496.66,97.64 498.20,97.60 498.20,109.60 496.66,109.60 495.13,109.60 493.59,109.60 492.06,109.60 490.52,109.60 488.98,109.60 487.45,109.60 485.91,109.60 484.37,109.60 482.84,109.60 481.30,109.60 479.77,109.60 478.23,109.60 476.69,109.60 475.16,109.60 473.62,109.60 472.09,109.60 470.55,109.60 469.01,109.60 467.48,109.60 465.94,109.60 464.41,109.60 462.87,109.60 461.33,109.60 459.80,109.60 458.26,109.60 456.72,109.60 455.19,109.60 453.65,109.60 452.12,109.60 450.58,109.60 449.04,109.60 447.51,109.60 445.97,109.60 444.44,109.60 442.90,109.60 441.36,109.60 439.83,109.60 438.29,109.60 436.75,109.60 435.22,109.60 433.68,109.60 432.15,109.60 430.61,109.60 429.07,109.60 427.54,109.60 426.00,109.60 424.47,109.60 422.93,109.60 421.39,109.60 419.86,109.60 418.32,109.60 416.78,109.60 415.25,109.60 413.71,109.60 412.18,109.60 410.64,109.60 409.10,109.60 407.57,109.60 406.03,109.60 404.50,109.60 402.96,109.60 401.42,109.60 399.89,109.60 398.35,109.60 396.82,109.60 395.28,109.60 393.74,109.60 392.21,109.60 390.67,109.60 389.13,109.60 387.60,109.60 386.06,109.60 384.53,109.60 382.99,109.60 381.45,109.60 379.92,109.60 378.38,109.60 376.85,109.60 375.31,109.60 373.77,109.60 372.24,109.60 370.70,109.60 369.16,109.60 367.63,109.60 366.09,109.60 364.56,109.60 363.02,109.60 361.48,109.60 359.95,109.60 358.41,109.60 356.88,109.60 355.34,109.60 353.80,109.60 352.27,109.60 350.73,109.60 349.19,109.60 347.66,109.60 346.12,109.60 344.59,109.60 343.05,109.60 341.51,109.60 339.98,109.60 338.44,109.60 336.91,109.60 335.37,109.60 333.83,109.60 332.30,109.60 330.76,109.60 329.23,109.60 327.69,109.60 326.15,109.60 324.62,109.60 323.08,109.60 321.54,109.60 320.01,109.60 318.47,109.60 316.94,109.60 315.40,109.60" fill="#9c86cb"/>
<polygon points="315.40,107.80 316.94,107.78 318.47,107.76 320.01,107.73 321.54,107.70 323.08,107.67 324.62,107.64 326.15,107.61 327.69,107.58 329.23,107.54 330.76,107.51 332.30,107.47 333.83,107.43 335.37,107.39 336.91,107.35 338.44,107.30 339.98,107.26 341.51,107.21 343.05,107.17 344.59,107.12 346.12,107.07 347.66,107.02 349.19,106.97 350.73,106.92 352.27,106.86 353.80,106.81 355.34,106.76 356.88,106.70 358.41,106.65 359.95,106.59 361.48,106.53 363.02,106.47 364.56,106.42 366.09,106.36 367.63,106.29 369.16,106.23 370.70,106.16 372.24,106.09 373.77,106.01 375.31,105.93 376.85,105.85 378.38,105.77 379.92,105.69 381.45,105.60 382.99,105.51 384.53,105.42 386.06,105.33 387.60,105.23 389.13,105.14 390.67,105.04 392.21,104.94 393.74,104.84 395.28,104.75 396.82,104.65 398.35,104.55 399.89,104.45 401.42,104.35 402.96,104.25 404.50,104.15 406.03,104.05 407.57,103.96 409.10,103.86 410.64,103.76 412.18,103.67 413.71,103.58 415.25,103.49 416.78,103.39 418.32,103.30 419.86,103.20 421.39,103.11 422.93,103.01 424.47,102.91 426.00,102.81 427.54,102.71 429.07,102.62 430.61,102.52 432.15,102.43 433.68,102.34 435.22,102.25 436.75,102.17 438.29,102.09 439.83,102.01 441.36,101.93 442.90,101.86 444.44,101.79 445.97,101.73 447.51,101.66 449.04,101.59 450.58,101.53 452.12,101.47 453.65,101.40 455.19,101.34 456.72,101.29 458.26,101.23 459.80,101.17 461.33,101.11 462.87,101.06 464.41,101.00 465.94,100.94 467.48,100.89 469.01,100.84 470.55,100.78 472.09,100.73 473.62,100.67 475.16,100.62 476.69,100.57 478.23,100.52 479.77,100.46 481.30,100.41 482.84,100.36 484.37,100.31 485.91,100.27 487.45,100.22 488.98,100.17 490.52,100.12 492.06,100.08 493.59,100.03 495.13,99.99 496.66,99.94 498.20,99.90 498.20,111.60 496.66,111.60 495.13,111.60 493.59,111.60 492.06,111.60 490.52,111.60 488.98,111.60 487.45,111.60 485.91,111.60 484.37,111.60 482.84,111.60 481.30,111.60 479.77,111.60 478.23,111.60 476.69,111.60 475.16,111.60 473.62,111.60 472.09,111.60 470.55,111.60 469.01,111.60 467.48,111.60 465.94,111.60 464.41,111.60 462.87,111.60 461.33,111.60 459.80,111.60 458.26,111.60 456.72,111.60 455.19,111.60 453.65,111.60 452.12,111.60 450.58,111.60 449.04,111.60 447.51,111.60 445.97,111.60 444.44,111.60 442.90,111.60 441.36,111.60 439.83,111.60 438.29,111.60 436.75,111.60 435.22,111.60 433.68,111.60 432.15,111.60 430.61,111.60 429.07,111.60 427.54,111.60 426.00,111.60 424.47,111.60 422.93,111.60 421.39,111.60 419.86,111.60 418.32,111.60 416.78,111.60 415.25,111.60 413.71,111.60 412.18,111.60 410.64,111.60 409.10,111.60 407.57,111.60 406.03,111.60 404.50,111.60 402.96,111.60 401.42,111.60 399.89,111.60 398.35,111.60 396.82,111.60 395.28,111.60 393.74,111.60 392.21,111.60 390.67,111.60 389.13,111.60 387.60,111.60 386.06,111.60 384.53,111.60 382.99,111.60 381.45,111.60 379.92,111.60 378.38,111.60 376.85,111.60 375.31,111.60 373.77,111.60 372.24,111.60 370.70,111.60 369.16,111.60 367.63,111.60 366.09,111.60 364.56,111.60 363.02,111.60 361.48,111.60 359.95,111.60 358.41,111.60 356.88,111.60 355.34,111.60 353.80,111.60 352.27,111.60 350.73,111.60 349.19,111.60 347.66,111.60 346.12,111.60 344.59,111.60 343.05,111.60 341.51,111.60 339.98,111.60 338.44,111.60 336.91,111.60 335.37,111.60 333.83,111.60 332.30,111.60 330.76,111.60 329.23,111.60 327.69,111.60 326.15,111.60 324.62,111.60 323.08,111.60 321.54,111.60 320.01,111.60 318.47,111.60 316.94,111.60 315.40,111.60" fill="#2aa8e0"/>
<rect x="315.1" y="35.0" width="1" height="76.6" fill="#000" fill-opacity="0.45"/>
<rect x="315.4" y="110.69999999999999" width="182.2" height="0.9" fill="#000" fill-opacity="0.12"/>
<rect x="497.1" y="35.0" width="1" height="76.6" fill="#000" fill-opacity="0.55"/>
<text x="325.6" y="56.3" font-size="5.6" fill="#ffffff" font-weight="normal" text-anchor="start" textLength="25.4" lengthAdjust="spacingAndGlyphs" stroke="#ffffff" stroke-width="0.12">C2 (2mut)</text>
<text x="325.6" y="63.1" font-size="5.6" fill="#ffffff" font-weight="normal" text-anchor="start" textLength="31.3" lengthAdjust="spacingAndGlyphs" stroke="#ffffff" stroke-width="0.12">PTEN Q214*</text>
<text x="325.6" y="69.8" font-size="5.6" fill="#ffffff" font-weight="normal" text-anchor="start" textLength="35" lengthAdjust="spacingAndGlyphs" stroke="#ffffff" stroke-width="0.12">FBXW7 R465H</text>
<text x="431.9" y="50.9" font-size="5.6" fill="#ffffff" font-weight="normal" text-anchor="start" textLength="23.1" lengthAdjust="spacingAndGlyphs" stroke="#ffffff" stroke-width="0.12">C1 (1mut)</text>
<text x="431.9" y="57.9" font-size="5.6" fill="#ffffff" font-weight="normal" text-anchor="start" textLength="51.9" lengthAdjust="spacingAndGlyphs" stroke="#ffffff" stroke-width="0.12">PTEN F241_E242insV</text>
<text x="321.7" y="107.8" font-size="5.5" fill="#eee6f6" font-weight="normal" text-anchor="start" textLength="31.8" lengthAdjust="spacingAndGlyphs">Subclones (9)</text>
<text x="471.3" y="109.3" font-size="6.0" fill="#e8f6fc" font-weight="normal" text-anchor="start" textLength="8.7" lengthAdjust="spacingAndGlyphs">WT</text>
<text x="7.0" y="147.4" font-size="11.2" fill="#111" font-weight="bold" text-anchor="start" textLength="7.8" lengthAdjust="spacingAndGlyphs">C</text>
<text x="11.8" y="158.1" font-size="7" fill="#2b2b2b" font-weight="normal" text-anchor="start" textLength="15.7" lengthAdjust="spacingAndGlyphs">100%</text>
<text x="101.2" y="159.0" font-size="8.4" fill="#2b2b2b" font-weight="normal" text-anchor="start" textLength="64.9" lengthAdjust="spacingAndGlyphs">T593 scDNA-seq</text>
<rect x="19.1" y="162.8" width="1" height="80.79999999999998" fill="#3a3a3a"/>
<text transform="translate(14.4,205.9) rotate(-90)" x="0" y="0" font-size="8.2" fill="#2b2b2b" text-anchor="middle" textLength="55.0" lengthAdjust="spacingAndGlyphs">Clonal prevalence</text>
<text x="15" y="252.5" font-size="6.6" fill="#2b2b2b" font-weight="normal" text-anchor="start" textLength="8.8" lengthAdjust="spacingAndGlyphs">0%</text>
<text x="37.8" y="252.5" font-size="6.6" fill="#2b2b2b" font-weight="normal" text-anchor="start" textLength="24.1" lengthAdjust="spacingAndGlyphs">T593-Dx</text>
<text x="224.6" y="252.5" font-size="6.6" fill="#2b2b2b" font-weight="normal" text-anchor="start" textLength="25.5" lengthAdjust="spacingAndGlyphs">T593-Rel</text>
<polygon points="28.60,235.10 29.13,235.05 29.66,234.97 30.19,234.86 30.72,234.73 31.25,234.58 31.78,234.40 32.32,234.20 32.85,233.98 33.38,233.74 33.91,233.49 34.44,233.22 34.97,232.93 35.50,232.64 36.03,232.34 36.56,232.02 37.09,231.70 37.62,231.38 38.15,231.05 38.68,230.72 39.22,230.38 39.75,230.05 40.28,229.72 40.81,229.40 41.34,229.08 41.87,228.76 42.40,228.46 42.93,228.17 43.46,227.88 43.99,227.61 44.52,227.36 45.05,227.12 45.58,226.90 46.12,226.70 46.65,226.52 47.18,226.37 47.71,226.24 48.24,226.13 48.77,226.05 49.30,226.00 49.80,226.00 49.80,243.80 49.30,243.80 48.77,243.75 48.24,243.68 47.71,243.58 47.18,243.45 46.65,243.30 46.12,243.13 45.58,242.94 45.05,242.73 44.52,242.50 43.99,242.26 43.46,242.00 42.93,241.73 42.40,241.45 41.87,241.16 41.34,240.86 40.81,240.55 40.28,240.24 39.75,239.93 39.22,239.61 38.68,239.29 38.15,238.97 37.62,238.66 37.09,238.35 36.56,238.04 36.03,237.74 35.50,237.45 34.97,237.17 34.44,236.90 33.91,236.64 33.38,236.40 32.85,236.17 32.32,235.96 31.78,235.77 31.25,235.60 30.72,235.45 30.19,235.32 29.66,235.22 29.13,235.15 28.60,235.10" fill="#2aa8e0"/>
<polygon points="27.80,222.30 28.35,222.27 28.90,222.23 29.45,222.17 30.01,222.10 30.56,222.02 31.11,221.92 31.66,221.81 32.21,221.70 32.76,221.57 33.31,221.43 33.86,221.29 34.42,221.13 34.97,220.98 35.52,220.81 36.07,220.64 36.62,220.47 37.17,220.30 37.72,220.12 38.27,219.94 38.83,219.76 39.38,219.58 39.93,219.40 40.48,219.23 41.03,219.06 41.58,218.89 42.13,218.72 42.68,218.57 43.24,218.41 43.79,218.27 44.34,218.13 44.89,218.00 45.44,217.89 45.99,217.78 46.54,217.68 47.09,217.60 47.65,217.53 48.20,217.47 48.75,217.43 49.30,217.40 49.80,217.40 49.80,226.00 49.30,226.00 48.75,225.98 48.20,225.95 47.65,225.90 47.09,225.85 46.54,225.79 45.99,225.71 45.44,225.63 44.89,225.54 44.34,225.45 43.79,225.34 43.24,225.23 42.68,225.12 42.13,225.00 41.58,224.88 41.03,224.75 40.48,224.62 39.93,224.49 39.38,224.35 38.83,224.22 38.27,224.08 37.72,223.95 37.17,223.81 36.62,223.68 36.07,223.55 35.52,223.42 34.97,223.30 34.42,223.18 33.86,223.07 33.31,222.96 32.76,222.85 32.21,222.76 31.66,222.67 31.11,222.59 30.56,222.51 30.01,222.45 29.45,222.40 28.90,222.35 28.35,222.32 27.80,222.30" fill="#652573"/>
<polygon points="28.00,215.50 28.55,215.49 29.09,215.47 29.64,215.44 30.18,215.41 30.73,215.37 31.28,215.32 31.82,215.27 32.37,215.22 32.92,215.16 33.46,215.09 34.01,215.02 34.55,214.95 35.10,214.88 35.65,214.80 36.19,214.72 36.74,214.64 37.28,214.56 37.83,214.48 38.38,214.39 38.92,214.31 39.47,214.22 40.02,214.14 40.56,214.06 41.11,213.98 41.65,213.90 42.20,213.82 42.75,213.75 43.29,213.68 43.84,213.61 44.38,213.54 44.93,213.48 45.48,213.43 46.02,213.38 46.57,213.33 47.12,213.29 47.66,213.26 48.21,213.23 48.75,213.21 49.30,213.20 49.80,213.20 49.80,217.40 49.30,217.40 48.75,217.39 48.21,217.37 47.66,217.35 47.12,217.32 46.57,217.29 46.02,217.25 45.48,217.21 44.93,217.17 44.38,217.12 43.84,217.06 43.29,217.01 42.75,216.95 42.20,216.89 41.65,216.82 41.11,216.76 40.56,216.69 40.02,216.62 39.47,216.55 38.92,216.48 38.38,216.42 37.83,216.35 37.28,216.28 36.74,216.21 36.19,216.14 35.65,216.08 35.10,216.01 34.55,215.95 34.01,215.89 33.46,215.84 32.92,215.78 32.37,215.73 31.82,215.69 31.28,215.65 30.73,215.61 30.18,215.58 29.64,215.55 29.09,215.53 28.55,215.51 28.00,215.50" fill="#38a537"/>
<polygon points="28.30,203.20 28.84,203.15 29.38,203.06 29.92,202.94 30.45,202.80 30.99,202.62 31.53,202.43 32.07,202.21 32.61,201.97 33.15,201.70 33.68,201.43 34.22,201.13 34.76,200.82 35.30,200.50 35.84,200.16 36.38,199.82 36.92,199.47 37.45,199.11 37.99,198.75 38.53,198.38 39.07,198.02 39.61,197.65 40.15,197.29 40.68,196.93 41.22,196.58 41.76,196.24 42.30,195.90 42.84,195.58 43.38,195.27 43.92,194.97 44.45,194.70 44.99,194.43 45.53,194.19 46.07,193.97 46.61,193.78 47.15,193.60 47.68,193.46 48.22,193.34 48.76,193.25 49.30,193.20 49.80,193.20 49.80,213.20 49.30,213.20 48.76,213.15 48.22,213.06 47.68,212.94 47.15,212.80 46.61,212.62 46.07,212.43 45.53,212.21 44.99,211.97 44.45,211.70 43.92,211.43 43.38,211.13 42.84,210.82 42.30,210.50 41.76,210.16 41.22,209.82 40.68,209.47 40.15,209.11 39.61,208.75 39.07,208.38 38.53,208.02 37.99,207.65 37.45,207.29 36.92,206.93 36.38,206.58 35.84,206.24 35.30,205.90 34.76,205.58 34.22,205.27 33.68,204.97 33.15,204.70 32.61,204.43 32.07,204.19 31.53,203.97 30.99,203.78 30.45,203.60 29.92,203.46 29.38,203.34 28.84,203.25 28.30,203.20" fill="#124c81"/>
<polygon points="28.00,179.20 28.52,179.12 29.04,179.00 29.56,178.84 30.08,178.63 30.60,178.39 31.12,178.12 31.64,177.81 32.16,177.47 32.68,177.11 33.21,176.72 33.73,176.30 34.25,175.87 34.77,175.41 35.29,174.95 35.81,174.47 36.33,173.97 36.85,173.47 37.37,172.97 37.89,172.46 38.41,171.94 38.93,171.43 39.45,170.93 39.97,170.43 40.49,169.93 41.01,169.45 41.53,168.99 42.05,168.53 42.57,168.10 43.09,167.68 43.62,167.29 44.14,166.93 44.66,166.59 45.18,166.28 45.70,166.01 46.22,165.77 46.74,165.56 47.26,165.40 47.78,165.28 48.30,165.20 49.80,165.20 49.80,193.20 48.30,193.20 47.78,193.12 47.26,193.00 46.74,192.84 46.22,192.63 45.70,192.39 45.18,192.12 44.66,191.81 44.14,191.47 43.62,191.11 43.09,190.72 42.57,190.30 42.05,189.87 41.53,189.41 41.01,188.95 40.49,188.47 39.97,187.97 39.45,187.47 38.93,186.97 38.41,186.46 37.89,185.94 37.37,185.43 36.85,184.93 36.33,184.43 35.81,183.93 35.29,183.45 34.77,182.99 34.25,182.53 33.73,182.10 33.21,181.68 32.68,181.29 32.16,180.93 31.64,180.59 31.12,180.28 30.60,180.01 30.08,179.77 29.56,179.56 29.04,179.40 28.52,179.28 28.00,179.20" fill="#c8052b"/>
<polygon points="49.30,165.20 50.88,165.20 52.46,165.20 54.05,165.20 55.63,165.20 57.21,165.20 58.79,165.20 60.38,165.20 61.96,165.20 63.54,165.20 65.12,165.20 66.71,165.20 68.29,165.20 69.87,165.20 71.45,165.20 73.04,165.20 74.62,165.20 76.20,165.20 77.78,165.20 79.36,165.20 80.95,165.20 82.53,165.20 84.11,165.20 85.69,165.20 87.28,165.20 88.86,165.20 90.44,165.20 92.02,165.20 93.61,165.20 95.19,165.20 96.77,165.20 98.35,165.20 99.94,165.20 101.52,165.20 103.10,165.20 104.68,165.20 106.26,165.20 107.85,165.20 109.43,165.20 111.01,165.20 112.59,165.20 114.18,165.20 115.76,165.20 117.34,165.20 118.92,165.20 120.51,165.20 122.09,165.20 123.67,165.20 125.25,165.20 126.84,165.20 128.42,165.20 130.00,165.20 131.58,165.20 133.16,165.20 134.75,165.20 136.33,165.20 137.91,165.20 139.49,165.20 141.08,165.20 142.66,165.20 144.24,165.20 145.82,165.20 147.41,165.20 148.99,165.20 150.57,165.20 152.15,165.20 153.74,165.20 155.32,165.20 156.90,165.20 158.48,165.20 160.06,165.20 161.65,165.20 163.23,165.20 164.81,165.20 166.39,165.20 167.98,165.20 169.56,165.20 171.14,165.20 172.72,165.20 174.31,165.20 175.89,165.20 177.47,165.20 179.05,165.20 180.64,165.20 182.22,165.20 183.80,165.20 185.38,165.20 186.96,165.20 188.55,165.20 190.13,165.20 191.71,165.20 193.29,165.20 194.88,165.20 196.46,165.20 198.04,165.20 199.62,165.20 201.21,165.20 202.79,165.20 204.37,165.20 205.95,165.20 207.54,165.20 209.12,165.20 210.70,165.20 212.28,165.20 213.86,165.20 215.45,165.20 217.03,165.20 218.61,165.20 220.19,165.20 221.78,165.20 223.36,165.20 224.94,165.20 226.52,165.20 228.11,165.20 229.69,165.20 231.27,165.20 232.85,165.20 234.44,165.20 236.02,165.20 237.60,165.20 237.60,241.80 236.02,241.80 234.44,241.80 232.85,241.80 231.27,241.80 229.69,241.80 228.11,241.80 226.52,241.80 224.94,241.80 223.36,241.80 221.78,241.80 220.19,241.80 218.61,241.80 217.03,241.80 215.45,241.80 213.86,241.80 212.28,241.80 210.70,241.80 209.12,241.80 207.54,241.80 205.95,241.80 204.37,241.80 202.79,241.80 201.21,241.80 199.62,241.80 198.04,241.80 196.46,241.80 194.88,241.80 193.29,241.80 191.71,241.80 190.13,241.80 188.55,241.80 186.96,241.80 185.38,241.80 183.80,241.80 182.22,241.80 180.64,241.80 179.05,241.80 177.47,241.80 175.89,241.80 174.31,241.80 172.72,241.80 171.14,241.80 169.56,241.80 167.98,241.80 166.39,241.80 164.81,241.80 163.23,241.80 161.65,241.80 160.06,241.80 158.48,241.80 156.90,241.80 155.32,241.80 153.74,241.80 152.15,241.80 150.57,241.80 148.99,241.80 147.41,241.80 145.82,241.80 144.24,241.80 142.66,241.80 141.08,241.80 139.49,241.80 137.91,241.80 136.33,241.80 134.75,241.80 133.16,241.80 131.58,241.80 130.00,241.80 128.42,241.80 126.84,241.80 125.25,241.80 123.67,241.80 122.09,241.80 120.51,241.80 118.92,241.80 117.34,241.80 115.76,241.80 114.18,241.80 112.59,241.80 111.01,241.80 109.43,241.80 107.85,241.80 106.26,241.80 104.68,241.80 103.10,241.80 101.52,241.80 99.94,241.80 98.35,241.80 96.77,241.80 95.19,241.80 93.61,241.80 92.02,241.80 90.44,241.80 88.86,241.80 87.28,241.80 85.69,241.80 84.11,241.80 82.53,241.80 80.95,241.80 79.36,241.80 77.78,241.80 76.20,241.80 74.62,241.80 73.04,241.80 71.45,241.80 69.87,241.80 68.29,241.80 66.71,241.80 65.12,241.80 63.54,241.80 61.96,241.80 60.38,241.80 58.79,241.80 57.21,241.80 55.63,241.80 54.05,241.80 52.46,241.80 50.88,241.80 49.30,241.80" fill="#c8052b"/>
<polygon points="49.30,193.20 50.88,193.20 52.46,193.20 54.05,193.21 55.63,193.21 57.21,193.22 58.79,193.22 60.38,193.23 61.96,193.24 63.54,193.25 65.12,193.25 66.71,193.27 68.29,193.28 69.87,193.29 71.45,193.30 73.04,193.31 74.62,193.32 76.20,193.34 77.78,193.35 79.36,193.36 80.95,193.38 82.53,193.39 84.11,193.41 85.69,193.42 87.28,193.44 88.86,193.45 90.44,193.47 92.02,193.49 93.61,193.51 95.19,193.53 96.77,193.56 98.35,193.58 99.94,193.61 101.52,193.63 103.10,193.66 104.68,193.69 106.26,193.72 107.85,193.75 109.43,193.79 111.01,193.82 112.59,193.86 114.18,193.90 115.76,193.94 117.34,193.98 118.92,194.03 120.51,194.08 122.09,194.15 123.67,194.23 125.25,194.31 126.84,194.40 128.42,194.50 130.00,194.59 131.58,194.69 133.16,194.80 134.75,194.89 136.33,194.99 137.91,195.09 139.49,195.17 141.08,195.26 142.66,195.34 144.24,195.42 145.82,195.51 147.41,195.59 148.99,195.67 150.57,195.75 152.15,195.83 153.74,195.91 155.32,195.99 156.90,196.06 158.48,196.13 160.06,196.20 161.65,196.27 163.23,196.34 164.81,196.41 166.39,196.49 167.98,196.55 169.56,196.62 171.14,196.68 172.72,196.74 174.31,196.80 175.89,196.84 177.47,196.88 179.05,196.91 180.64,196.94 182.22,196.96 183.80,196.99 185.38,197.02 186.96,197.04 188.55,197.07 190.13,197.09 191.71,197.12 193.29,197.14 194.88,197.17 196.46,197.19 198.04,197.21 199.62,197.23 201.21,197.25 202.79,197.27 204.37,197.29 205.95,197.31 207.54,197.33 209.12,197.34 210.70,197.36 212.28,197.37 213.86,197.39 215.45,197.40 217.03,197.42 218.61,197.43 220.19,197.44 221.78,197.45 223.36,197.46 224.94,197.47 226.52,197.47 228.11,197.48 229.69,197.49 231.27,197.49 232.85,197.50 234.44,197.50 236.02,197.50 237.60,197.50 237.60,241.80 236.02,241.80 234.44,241.80 232.85,241.80 231.27,241.80 229.69,241.80 228.11,241.80 226.52,241.80 224.94,241.80 223.36,241.80 221.78,241.80 220.19,241.80 218.61,241.80 217.03,241.80 215.45,241.80 213.86,241.80 212.28,241.80 210.70,241.80 209.12,241.80 207.54,241.80 205.95,241.80 204.37,241.80 202.79,241.80 201.21,241.80 199.62,241.80 198.04,241.80 196.46,241.80 194.88,241.80 193.29,241.80 191.71,241.80 190.13,241.80 188.55,241.80 186.96,241.80 185.38,241.80 183.80,241.80 182.22,241.80 180.64,241.80 179.05,241.80 177.47,241.80 175.89,241.80 174.31,241.80 172.72,241.80 171.14,241.80 169.56,241.80 167.98,241.80 166.39,241.80 164.81,241.80 163.23,241.80 161.65,241.80 160.06,241.80 158.48,241.80 156.90,241.80 155.32,241.80 153.74,241.80 152.15,241.80 150.57,241.80 148.99,241.80 147.41,241.80 145.82,241.80 144.24,241.80 142.66,241.80 141.08,241.80 139.49,241.80 137.91,241.80 136.33,241.80 134.75,241.80 133.16,241.80 131.58,241.80 130.00,241.80 128.42,241.80 126.84,241.80 125.25,241.80 123.67,241.80 122.09,241.80 120.51,241.80 118.92,241.80 117.34,241.80 115.76,241.80 114.18,241.80 112.59,241.80 111.01,241.80 109.43,241.80 107.85,241.80 106.26,241.80 104.68,241.80 103.10,241.80 101.52,241.80 99.94,241.80 98.35,241.80 96.77,241.80 95.19,241.80 93.61,241.80 92.02,241.80 90.44,241.80 88.86,241.80 87.28,241.80 85.69,241.80 84.11,241.80 82.53,241.80 80.95,241.80 79.36,241.80 77.78,241.80 76.20,241.80 74.62,241.80 73.04,241.80 71.45,241.80 69.87,241.80 68.29,241.80 66.71,241.80 65.12,241.80 63.54,241.80 61.96,241.80 60.38,241.80 58.79,241.80 57.21,241.80 55.63,241.80 54.05,241.80 52.46,241.80 50.88,241.80 49.30,241.80" fill="#124c81"/>
<polygon points="49.30,213.20 50.88,213.20 52.46,213.19 54.05,213.17 55.63,213.14 57.21,213.11 58.79,213.08 60.38,213.04 61.96,212.99 63.54,212.94 65.12,212.88 66.71,212.82 68.29,212.76 69.87,212.69 71.45,212.62 73.04,212.55 74.62,212.47 76.20,212.39 77.78,212.31 79.36,212.22 80.95,212.14 82.53,212.05 84.11,211.96 85.69,211.86 87.28,211.73 88.86,211.59 90.44,211.43 92.02,211.26 93.61,211.08 95.19,210.89 96.77,210.70 98.35,210.51 99.94,210.32 101.52,210.13 103.10,209.96 104.68,209.78 106.26,209.60 107.85,209.42 109.43,209.24 111.01,209.05 112.59,208.86 114.18,208.67 115.76,208.48 117.34,208.29 118.92,208.09 120.51,207.89 122.09,207.69 123.67,207.48 125.25,207.27 126.84,207.05 128.42,206.83 130.00,206.61 131.58,206.38 133.16,206.16 134.75,205.93 136.33,205.71 137.91,205.49 139.49,205.27 141.08,205.05 142.66,204.84 144.24,204.63 145.82,204.41 147.41,204.20 148.99,203.99 150.57,203.78 152.15,203.58 153.74,203.37 155.32,203.17 156.90,202.96 158.48,202.76 160.06,202.57 161.65,202.36 163.23,202.15 164.81,201.94 166.39,201.73 167.98,201.52 169.56,201.32 171.14,201.12 172.72,200.94 174.31,200.77 175.89,200.62 177.47,200.48 179.05,200.36 180.64,200.25 182.22,200.15 183.80,200.04 185.38,199.95 186.96,199.86 188.55,199.77 190.13,199.69 191.71,199.62 193.29,199.55 194.88,199.49 196.46,199.44 198.04,199.40 199.62,199.36 201.21,199.32 202.79,199.28 204.37,199.25 205.95,199.21 207.54,199.18 209.12,199.14 210.70,199.11 212.28,199.08 213.86,199.05 215.45,199.02 217.03,198.99 218.61,198.96 220.19,198.94 221.78,198.92 223.36,198.90 224.94,198.88 226.52,198.86 228.11,198.84 229.69,198.83 231.27,198.82 232.85,198.81 234.44,198.81 236.02,198.80 237.60,198.80 237.60,241.80 236.02,241.80 234.44,241.80 232.85,241.80 231.27,241.80 229.69,241.80 228.11,241.80 226.52,241.80 224.94,241.80 223.36,241.80 221.78,241.80 220.19,241.80 218.61,241.80 217.03,241.80 215.45,241.80 213.86,241.80 212.28,241.80 210.70,241.80 209.12,241.80 207.54,241.80 205.95,241.80 204.37,241.80 202.79,241.80 201.21,241.80 199.62,241.80 198.04,241.80 196.46,241.80 194.88,241.80 193.29,241.80 191.71,241.80 190.13,241.80 188.55,241.80 186.96,241.80 185.38,241.80 183.80,241.80 182.22,241.80 180.64,241.80 179.05,241.80 177.47,241.80 175.89,241.80 174.31,241.80 172.72,241.80 171.14,241.80 169.56,241.80 167.98,241.80 166.39,241.80 164.81,241.80 163.23,241.80 161.65,241.80 160.06,241.80 158.48,241.80 156.90,241.80 155.32,241.80 153.74,241.80 152.15,241.80 150.57,241.80 148.99,241.80 147.41,241.80 145.82,241.80 144.24,241.80 142.66,241.80 141.08,241.80 139.49,241.80 137.91,241.80 136.33,241.80 134.75,241.80 133.16,241.80 131.58,241.80 130.00,241.80 128.42,241.80 126.84,241.80 125.25,241.80 123.67,241.80 122.09,241.80 120.51,241.80 118.92,241.80 117.34,241.80 115.76,241.80 114.18,241.80 112.59,241.80 111.01,241.80 109.43,241.80 107.85,241.80 106.26,241.80 104.68,241.80 103.10,241.80 101.52,241.80 99.94,241.80 98.35,241.80 96.77,241.80 95.19,241.80 93.61,241.80 92.02,241.80 90.44,241.80 88.86,241.80 87.28,241.80 85.69,241.80 84.11,241.80 82.53,241.80 80.95,241.80 79.36,241.80 77.78,241.80 76.20,241.80 74.62,241.80 73.04,241.80 71.45,241.80 69.87,241.80 68.29,241.80 66.71,241.80 65.12,241.80 63.54,241.80 61.96,241.80 60.38,241.80 58.79,241.80 57.21,241.80 55.63,241.80 54.05,241.80 52.46,241.80 50.88,241.80 49.30,241.80" fill="#38a537"/>
<polygon points="49.30,217.40 50.88,217.36 52.46,217.31 54.05,217.27 55.63,217.22 57.21,217.18 58.79,217.13 60.38,217.09 61.96,217.04 63.54,216.99 65.12,216.95 66.71,216.90 68.29,216.85 69.87,216.81 71.45,216.76 73.04,216.71 74.62,216.67 76.20,216.62 77.78,216.57 79.36,216.52 80.95,216.48 82.53,216.43 84.11,216.38 85.69,216.34 87.28,216.29 88.86,216.25 90.44,216.21 92.02,216.16 93.61,216.12 95.19,216.07 96.77,216.02 98.35,215.97 99.94,215.91 101.52,215.85 103.10,215.78 104.68,215.70 106.26,215.61 107.85,215.51 109.43,215.40 111.01,215.29 112.59,215.16 114.18,215.04 115.76,214.91 117.34,214.78 118.92,214.65 120.51,214.52 122.09,214.39 123.67,214.27 125.25,214.14 126.84,214.02 128.42,213.89 130.00,213.76 131.58,213.63 133.16,213.50 134.75,213.36 136.33,213.23 137.91,213.09 139.49,212.95 141.08,212.80 142.66,212.65 144.24,212.50 145.82,212.34 147.41,212.19 148.99,212.03 150.57,211.87 152.15,211.70 153.74,211.54 155.32,211.38 156.90,211.21 158.48,211.05 160.06,210.89 161.65,210.72 163.23,210.54 164.81,210.36 166.39,210.18 167.98,210.00 169.56,209.82 171.14,209.65 172.72,209.48 174.31,209.33 175.89,209.19 177.47,209.07 179.05,208.97 180.64,208.87 182.22,208.77 183.80,208.68 185.38,208.60 186.96,208.52 188.55,208.44 190.13,208.37 191.71,208.30 193.29,208.24 194.88,208.19 196.46,208.14 198.04,208.10 199.62,208.06 201.21,208.02 202.79,207.99 204.37,207.95 205.95,207.91 207.54,207.88 209.12,207.85 210.70,207.81 212.28,207.78 213.86,207.75 215.45,207.72 217.03,207.69 218.61,207.67 220.19,207.64 221.78,207.62 223.36,207.60 224.94,207.58 226.52,207.56 228.11,207.55 229.69,207.53 231.27,207.52 232.85,207.51 234.44,207.51 236.02,207.50 237.60,207.50 237.60,241.80 236.02,241.80 234.44,241.80 232.85,241.80 231.27,241.80 229.69,241.80 228.11,241.80 226.52,241.80 224.94,241.80 223.36,241.80 221.78,241.80 220.19,241.80 218.61,241.80 217.03,241.80 215.45,241.80 213.86,241.80 212.28,241.80 210.70,241.80 209.12,241.80 207.54,241.80 205.95,241.80 204.37,241.80 202.79,241.80 201.21,241.80 199.62,241.80 198.04,241.80 196.46,241.80 194.88,241.80 193.29,241.80 191.71,241.80 190.13,241.80 188.55,241.80 186.96,241.80 185.38,241.80 183.80,241.80 182.22,241.80 180.64,241.80 179.05,241.80 177.47,241.80 175.89,241.80 174.31,241.80 172.72,241.80 171.14,241.80 169.56,241.80 167.98,241.80 166.39,241.80 164.81,241.80 163.23,241.80 161.65,241.80 160.06,241.80 158.48,241.80 156.90,241.80 155.32,241.80 153.74,241.80 152.15,241.80 150.57,241.80 148.99,241.80 147.41,241.80 145.82,241.80 144.24,241.80 142.66,241.80 141.08,241.80 139.49,241.80 137.91,241.80 136.33,241.80 134.75,241.80 133.16,241.80 131.58,241.80 130.00,241.80 128.42,241.80 126.84,241.80 125.25,241.80 123.67,241.80 122.09,241.80 120.51,241.80 118.92,241.80 117.34,241.80 115.76,241.80 114.18,241.80 112.59,241.80 111.01,241.80 109.43,241.80 107.85,241.80 106.26,241.80 104.68,241.80 103.10,241.80 101.52,241.80 99.94,241.80 98.35,241.80 96.77,241.80 95.19,241.80 93.61,241.80 92.02,241.80 90.44,241.80 88.86,241.80 87.28,241.80 85.69,241.80 84.11,241.80 82.53,241.80 80.95,241.80 79.36,241.80 77.78,241.80 76.20,241.80 74.62,241.80 73.04,241.80 71.45,241.80 69.87,241.80 68.29,241.80 66.71,241.80 65.12,241.80 63.54,241.80 61.96,241.80 60.38,241.80 58.79,241.80 57.21,241.80 55.63,241.80 54.05,241.80 52.46,241.80 50.88,241.80 49.30,241.80" fill="#652573"/>
<polygon points="49.30,226.00 50.88,225.99 52.46,225.97 54.05,225.96 55.63,225.95 57.21,225.94 58.79,225.92 60.38,225.91 61.96,225.90 63.54,225.89 65.12,225.87 66.71,225.86 68.29,225.85 69.87,225.84 71.45,225.82 73.04,225.81 74.62,225.80 76.20,225.79 77.78,225.77 79.36,225.76 80.95,225.75 82.53,225.74 84.11,225.72 85.69,225.71 87.28,225.70 88.86,225.68 90.44,225.67 92.02,225.66 93.61,225.65 95.19,225.63 96.77,225.62 98.35,225.61 99.94,225.60 101.52,225.58 103.10,225.57 104.68,225.56 106.26,225.55 107.85,225.53 109.43,225.52 111.01,225.51 112.59,225.50 114.18,225.48 115.76,225.47 117.34,225.46 118.92,225.45 120.51,225.43 122.09,225.42 123.67,225.41 125.25,225.39 126.84,225.38 128.42,225.37 130.00,225.36 131.58,225.34 133.16,225.33 134.75,225.32 136.33,225.31 137.91,225.29 139.49,225.28 141.08,225.27 142.66,225.26 144.24,225.24 145.82,225.23 147.41,225.22 148.99,225.21 150.57,225.19 152.15,225.18 153.74,225.17 155.32,225.16 156.90,225.14 158.48,225.13 160.06,225.12 161.65,225.11 163.23,225.09 164.81,225.08 166.39,225.07 167.98,225.05 169.56,225.04 171.14,225.03 172.72,225.02 174.31,225.00 175.89,224.99 177.47,224.98 179.05,224.97 180.64,224.95 182.22,224.94 183.80,224.93 185.38,224.92 186.96,224.90 188.55,224.89 190.13,224.88 191.71,224.87 193.29,224.85 194.88,224.84 196.46,224.83 198.04,224.82 199.62,224.80 201.21,224.79 202.79,224.78 204.37,224.76 205.95,224.75 207.54,224.74 209.12,224.73 210.70,224.71 212.28,224.70 213.86,224.69 215.45,224.68 217.03,224.66 218.61,224.65 220.19,224.64 221.78,224.63 223.36,224.61 224.94,224.60 226.52,224.59 228.11,224.58 229.69,224.56 231.27,224.55 232.85,224.54 234.44,224.53 236.02,224.51 237.60,224.50 237.60,243.80 236.02,243.80 234.44,243.80 232.85,243.80 231.27,243.80 229.69,243.80 228.11,243.80 226.52,243.80 224.94,243.80 223.36,243.80 221.78,243.80 220.19,243.80 218.61,243.80 217.03,243.80 215.45,243.80 213.86,243.80 212.28,243.80 210.70,243.80 209.12,243.80 207.54,243.80 205.95,243.80 204.37,243.80 202.79,243.80 201.21,243.80 199.62,243.80 198.04,243.80 196.46,243.80 194.88,243.80 193.29,243.80 191.71,243.80 190.13,243.80 188.55,243.80 186.96,243.80 185.38,243.80 183.80,243.80 182.22,243.80 180.64,243.80 179.05,243.80 177.47,243.80 175.89,243.80 174.31,243.80 172.72,243.80 171.14,243.80 169.56,243.80 167.98,243.80 166.39,243.80 164.81,243.80 163.23,243.80 161.65,243.80 160.06,243.80 158.48,243.80 156.90,243.80 155.32,243.80 153.74,243.80 152.15,243.80 150.57,243.80 148.99,243.80 147.41,243.80 145.82,243.80 144.24,243.80 142.66,243.80 141.08,243.80 139.49,243.80 137.91,243.80 136.33,243.80 134.75,243.80 133.16,243.80 131.58,243.80 130.00,243.80 128.42,243.80 126.84,243.80 125.25,243.80 123.67,243.80 122.09,243.80 120.51,243.80 118.92,243.80 117.34,243.80 115.76,243.80 114.18,243.80 112.59,243.80 111.01,243.80 109.43,243.80 107.85,243.80 106.26,243.80 104.68,243.80 103.10,243.80 101.52,243.80 99.94,243.80 98.35,243.80 96.77,243.80 95.19,243.80 93.61,243.80 92.02,243.80 90.44,243.80 88.86,243.80 87.28,243.80 85.69,243.80 84.11,243.80 82.53,243.80 80.95,243.80 79.36,243.80 77.78,243.80 76.20,243.80 74.62,243.80 73.04,243.80 71.45,243.80 69.87,243.80 68.29,243.80 66.71,243.80 65.12,243.80 63.54,243.80 61.96,243.80 60.38,243.80 58.79,243.80 57.21,243.80 55.63,243.80 54.05,243.80 52.46,243.80 50.88,243.80 49.30,243.80" fill="#2aa8e0"/>
<rect x="49.0" y="165.2" width="1" height="78.80000000000001" fill="#000" fill-opacity="0.45"/>
<rect x="49.3" y="242.9" width="187.7" height="0.9" fill="#000" fill-opacity="0.12"/>
<rect x="236.5" y="165.2" width="1" height="78.60000000000002" fill="#000" fill-opacity="0.55"/>
<text x="100.3" y="172.3" font-size="5.6" fill="#ffffff" font-weight="normal" text-anchor="start" textLength="24.1" lengthAdjust="spacingAndGlyphs" stroke="#ffffff" stroke-width="0.12">C1 (3mut)</text>
<text x="100.3" y="179.0" font-size="5.6" fill="#ffffff" font-weight="normal" text-anchor="start" textLength="28.5" lengthAdjust="spacingAndGlyphs" stroke="#ffffff" stroke-width="0.12">EZH2 F145L</text>
<text x="100.3" y="185.3" font-size="5.6" fill="#ffffff" font-weight="normal" text-anchor="start" textLength="42.8" lengthAdjust="spacingAndGlyphs" stroke="#ffffff" stroke-width="0.12">NOTCH1 Q2501*</text>
<text x="100.3" y="191.9" font-size="5.6" fill="#ffffff" font-weight="normal" text-anchor="start" textLength="39.1" lengthAdjust="spacingAndGlyphs" stroke="#ffffff" stroke-width="0.12">NOTCH1 I1680S</text>
<text x="53" y="199.4" font-size="5.6" fill="#ffffff" font-weight="normal" text-anchor="start" textLength="23.1" lengthAdjust="spacingAndGlyphs" stroke="#ffffff" stroke-width="0.12">C2 (3mut)</text>
<text x="53" y="206.0" font-size="5.6" fill="#ffffff" font-weight="normal" text-anchor="start" textLength="62" lengthAdjust="spacingAndGlyphs" stroke="#ffffff" stroke-width="0.12">EZH2 F145L; EZH2 D730*</text>
<text x="53" y="212.5" font-size="5.6" fill="#ffffff" font-weight="normal" text-anchor="start" textLength="38.7" lengthAdjust="spacingAndGlyphs" stroke="#ffffff" stroke-width="0.12">KDM6A R1111C</text>
<text x="176" y="202.0" font-size="5.6" fill="#ffffff" font-weight="normal" text-anchor="start" textLength="53.9" lengthAdjust="spacingAndGlyphs" stroke="#ffffff" stroke-width="0.12">C3 (2mut) EZH2 F145L,</text>
<text x="176" y="208.5" font-size="5.6" fill="#ffffff" font-weight="normal" text-anchor="start" textLength="39.8" lengthAdjust="spacingAndGlyphs" stroke="#ffffff" stroke-width="0.12">NOTCH1 Q2501*</text>
<text x="106.9" y="224.0" font-size="5.3" fill="#f0cdf0" font-weight="normal" text-anchor="start" textLength="35.6" lengthAdjust="spacingAndGlyphs">Subclones (31)</text>
<text x="205.4" y="238.0" font-size="6.0" fill="#e8f6fc" font-weight="normal" text-anchor="start" textLength="7.3" lengthAdjust="spacingAndGlyphs">WT</text>
<text x="269.0" y="145.9" font-size="11.2" fill="#111" font-weight="bold" text-anchor="start" textLength="7.9" lengthAdjust="spacingAndGlyphs">D</text>
<text x="273.4" y="158.1" font-size="7" fill="#2b2b2b" font-weight="normal" text-anchor="start" textLength="15.9" lengthAdjust="spacingAndGlyphs">100%</text>
<text x="363.8" y="158.8" font-size="8.4" fill="#2b2b2b" font-weight="normal" text-anchor="start" textLength="66.1" lengthAdjust="spacingAndGlyphs">T856 scDNA-seq</text>
<rect x="280.8" y="163" width="1" height="80.0" fill="#3a3a3a"/>
<text transform="translate(276.2,203.4) rotate(-90)" x="0" y="0" font-size="8.2" fill="#2b2b2b" text-anchor="middle" textLength="54.19999999999999" lengthAdjust="spacingAndGlyphs">Clonal prevalence</text>
<text x="277" y="252.4" font-size="6.6" fill="#2b2b2b" font-weight="normal" text-anchor="start" textLength="8.5" lengthAdjust="spacingAndGlyphs">0%</text>
<text x="298.6" y="252.4" font-size="6.6" fill="#2b2b2b" font-weight="normal" text-anchor="start" textLength="24.4" lengthAdjust="spacingAndGlyphs">T856-Dx</text>
<text x="487.8" y="252.1" font-size="6.6" fill="#2b2b2b" font-weight="normal" text-anchor="start" textLength="25.3" lengthAdjust="spacingAndGlyphs">T856-Rel</text>
<polygon points="288.90,241.30 289.45,241.29 290.00,241.27 290.55,241.25 291.09,241.22 291.64,241.18 292.19,241.15 292.74,241.10 293.29,241.05 293.84,241.00 294.39,240.95 294.94,240.89 295.48,240.82 296.03,240.76 296.58,240.69 297.13,240.62 297.68,240.55 298.23,240.48 298.78,240.41 299.33,240.34 299.87,240.26 300.42,240.19 300.97,240.12 301.52,240.05 302.07,239.98 302.62,239.91 303.17,239.84 303.72,239.78 304.26,239.71 304.81,239.65 305.36,239.60 305.91,239.55 306.46,239.50 307.01,239.45 307.56,239.42 308.11,239.38 308.65,239.35 309.20,239.33 309.75,239.31 310.30,239.30 310.80,239.30 310.80,243.60 310.30,243.60 309.75,243.59 309.20,243.57 308.65,243.54 308.11,243.51 307.56,243.47 307.01,243.42 306.46,243.37 305.91,243.32 305.36,243.26 304.81,243.19 304.26,243.12 303.72,243.05 303.17,242.98 302.62,242.90 302.07,242.82 301.52,242.74 300.97,242.66 300.42,242.58 299.87,242.49 299.33,242.41 298.78,242.32 298.23,242.24 297.68,242.16 297.13,242.08 296.58,242.00 296.03,241.92 295.48,241.85 294.94,241.78 294.39,241.71 293.84,241.64 293.29,241.58 292.74,241.53 292.19,241.48 291.64,241.43 291.09,241.39 290.55,241.36 290.00,241.33 289.45,241.31 288.90,241.30" fill="#2aa8e0"/>
<polygon points="288.90,236.20 289.45,236.19 290.00,236.17 290.55,236.14 291.09,236.10 291.64,236.06 292.19,236.01 292.74,235.96 293.29,235.90 293.84,235.84 294.39,235.77 294.94,235.70 295.48,235.63 296.03,235.55 296.58,235.47 297.13,235.39 297.68,235.30 298.23,235.22 298.78,235.13 299.33,235.04 299.87,234.96 300.42,234.87 300.97,234.78 301.52,234.70 302.07,234.61 302.62,234.53 303.17,234.45 303.72,234.37 304.26,234.30 304.81,234.23 305.36,234.16 305.91,234.10 306.46,234.04 307.01,233.99 307.56,233.94 308.11,233.90 308.65,233.86 309.20,233.83 309.75,233.81 310.30,233.80 310.80,233.80 310.80,239.30 310.30,239.30 309.75,239.28 309.20,239.26 308.65,239.22 308.11,239.17 307.56,239.12 307.01,239.06 306.46,238.99 305.91,238.92 305.36,238.84 304.81,238.75 304.26,238.66 303.72,238.56 303.17,238.46 302.62,238.36 302.07,238.25 301.52,238.14 300.97,238.03 300.42,237.92 299.87,237.81 299.33,237.69 298.78,237.58 298.23,237.47 297.68,237.36 297.13,237.25 296.58,237.14 296.03,237.04 295.48,236.94 294.94,236.84 294.39,236.75 293.84,236.66 293.29,236.58 292.74,236.51 292.19,236.44 291.64,236.38 291.09,236.33 290.55,236.28 290.00,236.24 289.45,236.22 288.90,236.20" fill="#f59100"/>
<polygon points="288.70,209.70 289.25,209.57 289.81,209.36 290.36,209.08 290.92,208.74 291.47,208.32 292.02,207.85 292.58,207.33 293.13,206.75 293.68,206.13 294.24,205.46 294.79,204.75 295.35,204.01 295.90,203.24 296.45,202.44 297.01,201.62 297.56,200.78 298.12,199.92 298.67,199.06 299.22,198.19 299.78,197.31 300.33,196.44 300.88,195.58 301.44,194.72 301.99,193.88 302.55,193.06 303.10,192.26 303.65,191.49 304.21,190.75 304.76,190.04 305.32,189.37 305.87,188.75 306.42,188.17 306.98,187.65 307.53,187.18 308.08,186.76 308.64,186.42 309.19,186.14 309.75,185.93 310.30,185.80 310.80,185.80 310.80,233.80 310.30,233.80 309.75,233.67 309.19,233.46 308.64,233.18 308.08,232.83 307.53,232.41 306.98,231.94 306.42,231.41 305.87,230.83 305.32,230.20 304.76,229.52 304.21,228.81 303.65,228.06 303.10,227.28 302.55,226.48 301.99,225.65 301.44,224.80 300.88,223.94 300.33,223.07 299.78,222.19 299.22,221.31 298.67,220.43 298.12,219.56 297.56,218.70 297.01,217.85 296.45,217.02 295.90,216.22 295.35,215.44 294.79,214.69 294.24,213.98 293.68,213.30 293.13,212.67 292.58,212.09 292.02,211.56 291.47,211.09 290.92,210.67 290.36,210.32 289.81,210.04 289.25,209.83 288.70,209.70" fill="#124c81"/>
<polygon points="289.00,174.10 289.51,174.04 290.02,173.96 290.52,173.84 291.03,173.69 291.54,173.52 292.05,173.32 292.55,173.10 293.06,172.85 293.57,172.59 294.08,172.31 294.58,172.01 295.09,171.70 295.60,171.37 296.11,171.03 296.62,170.68 297.12,170.33 297.63,169.97 298.14,169.60 298.65,169.23 299.15,168.87 299.66,168.50 300.17,168.13 300.68,167.77 301.18,167.42 301.69,167.07 302.20,166.73 302.71,166.40 303.22,166.09 303.72,165.79 304.23,165.51 304.74,165.25 305.25,165.00 305.75,164.78 306.26,164.58 306.77,164.41 307.28,164.26 307.78,164.14 308.29,164.06 308.80,164.00 310.80,164.00 310.80,185.30 308.80,185.30 308.29,185.24 307.78,185.14 307.28,185.01 306.77,184.85 306.26,184.66 305.75,184.43 305.25,184.19 304.74,183.92 304.23,183.63 303.72,183.31 303.22,182.98 302.71,182.63 302.20,182.27 301.69,181.90 301.18,181.51 300.68,181.12 300.17,180.72 299.66,180.31 299.15,179.90 298.65,179.50 298.14,179.09 297.63,178.68 297.12,178.28 296.62,177.89 296.11,177.50 295.60,177.13 295.09,176.77 294.58,176.42 294.08,176.09 293.57,175.77 293.06,175.48 292.55,175.21 292.05,174.97 291.54,174.74 291.03,174.55 290.52,174.39 290.02,174.26 289.51,174.16 289.00,174.10" fill="#c8052b"/>
<polygon points="310.30,164.00 311.90,164.00 313.50,164.00 315.10,164.00 316.70,164.00 318.30,164.00 319.91,164.00 321.51,164.00 323.11,164.00 324.71,164.00 326.31,164.00 327.91,164.00 329.51,164.00 331.11,164.00 332.71,164.00 334.31,164.00 335.91,164.00 337.51,164.00 339.12,164.00 340.72,164.00 342.32,164.00 343.92,164.00 345.52,164.00 347.12,164.00 348.72,164.00 350.32,164.00 351.92,164.00 353.52,164.00 355.12,164.00 356.72,164.00 358.33,164.00 359.93,164.00 361.53,164.00 363.13,164.00 364.73,164.00 366.33,164.00 367.93,164.00 369.53,164.00 371.13,164.00 372.73,164.00 374.33,164.00 375.93,164.00 377.54,164.00 379.14,164.00 380.74,164.00 382.34,164.00 383.94,164.00 385.54,164.00 387.14,164.00 388.74,164.00 390.34,164.00 391.94,164.00 393.54,164.00 395.14,164.00 396.75,164.00 398.35,164.00 399.95,164.00 401.55,164.00 403.15,164.00 404.75,164.00 406.35,164.00 407.95,164.00 409.55,164.00 411.15,164.00 412.75,164.00 414.35,164.00 415.96,164.00 417.56,164.00 419.16,164.00 420.76,164.00 422.36,164.00 423.96,164.00 425.56,164.00 427.16,164.00 428.76,164.00 430.36,164.00 431.96,164.00 433.56,164.00 435.17,164.00 436.77,164.00 438.37,164.00 439.97,164.00 441.57,164.00 443.17,164.00 444.77,164.00 446.37,164.00 447.97,164.00 449.57,164.00 451.17,164.00 452.77,164.00 454.38,164.00 455.98,164.00 457.58,164.00 459.18,164.00 460.78,164.00 462.38,164.00 463.98,164.00 465.58,164.00 467.18,164.00 468.78,164.00 470.38,164.00 471.98,164.00 473.59,164.00 475.19,164.00 476.79,164.00 478.39,164.00 479.99,164.00 481.59,164.00 483.19,164.00 484.79,164.00 486.39,164.00 487.99,164.00 489.59,164.00 491.19,164.00 492.80,164.00 494.40,164.00 496.00,164.00 497.60,164.00 499.20,164.00 500.80,164.00 500.80,241.60 499.20,241.60 497.60,241.60 496.00,241.60 494.40,241.60 492.80,241.60 491.19,241.60 489.59,241.60 487.99,241.60 486.39,241.60 484.79,241.60 483.19,241.60 481.59,241.60 479.99,241.60 478.39,241.60 476.79,241.60 475.19,241.60 473.59,241.60 471.98,241.60 470.38,241.60 468.78,241.60 467.18,241.60 465.58,241.60 463.98,241.60 462.38,241.60 460.78,241.60 459.18,241.60 457.58,241.60 455.98,241.60 454.38,241.60 452.77,241.60 451.17,241.60 449.57,241.60 447.97,241.60 446.37,241.60 444.77,241.60 443.17,241.60 441.57,241.60 439.97,241.60 438.37,241.60 436.77,241.60 435.17,241.60 433.56,241.60 431.96,241.60 430.36,241.60 428.76,241.60 427.16,241.60 425.56,241.60 423.96,241.60 422.36,241.60 420.76,241.60 419.16,241.60 417.56,241.60 415.96,241.60 414.35,241.60 412.75,241.60 411.15,241.60 409.55,241.60 407.95,241.60 406.35,241.60 404.75,241.60 403.15,241.60 401.55,241.60 399.95,241.60 398.35,241.60 396.75,241.60 395.14,241.60 393.54,241.60 391.94,241.60 390.34,241.60 388.74,241.60 387.14,241.60 385.54,241.60 383.94,241.60 382.34,241.60 380.74,241.60 379.14,241.60 377.54,241.60 375.93,241.60 374.33,241.60 372.73,241.60 371.13,241.60 369.53,241.60 367.93,241.60 366.33,241.60 364.73,241.60 363.13,241.60 361.53,241.60 359.93,241.60 358.33,241.60 356.72,241.60 355.12,241.60 353.52,241.60 351.92,241.60 350.32,241.60 348.72,241.60 347.12,241.60 345.52,241.60 343.92,241.60 342.32,241.60 340.72,241.60 339.12,241.60 337.51,241.60 335.91,241.60 334.31,241.60 332.71,241.60 331.11,241.60 329.51,241.60 327.91,241.60 326.31,241.60 324.71,241.60 323.11,241.60 321.51,241.60 319.91,241.60 318.30,241.60 316.70,241.60 315.10,241.60 313.50,241.60 311.90,241.60 310.30,241.60" fill="#c8052b"/>
<polygon points="310.30,185.40 311.90,185.44 313.50,185.49 315.10,185.53 316.70,185.58 318.30,185.63 319.91,185.69 321.51,185.74 323.11,185.80 324.71,185.86 326.31,185.92 327.91,185.98 329.51,186.04 331.11,186.11 332.71,186.18 334.31,186.24 335.91,186.31 337.51,186.39 339.12,186.46 340.72,186.53 342.32,186.61 343.92,186.69 345.52,186.76 347.12,186.84 348.72,186.93 350.32,187.01 351.92,187.09 353.52,187.18 355.12,187.27 356.72,187.36 358.33,187.46 359.93,187.55 361.53,187.65 363.13,187.76 364.73,187.86 366.33,187.97 367.93,188.08 369.53,188.19 371.13,188.31 372.73,188.43 374.33,188.56 375.93,188.69 377.54,188.82 379.14,188.95 380.74,189.09 382.34,189.24 383.94,189.39 385.54,189.57 387.14,189.77 388.74,189.98 390.34,190.21 391.94,190.44 393.54,190.68 395.14,190.92 396.75,191.15 398.35,191.38 399.95,191.59 401.55,191.80 403.15,192.01 404.75,192.22 406.35,192.43 407.95,192.63 409.55,192.84 411.15,193.04 412.75,193.23 414.35,193.42 415.96,193.60 417.56,193.77 419.16,193.92 420.76,194.07 422.36,194.21 423.96,194.34 425.56,194.47 427.16,194.60 428.76,194.72 430.36,194.84 431.96,194.96 433.56,195.07 435.17,195.18 436.77,195.28 438.37,195.38 439.97,195.48 441.57,195.57 443.17,195.66 444.77,195.74 446.37,195.82 447.97,195.89 449.57,195.97 451.17,196.04 452.77,196.12 454.38,196.19 455.98,196.25 457.58,196.32 459.18,196.38 460.78,196.44 462.38,196.50 463.98,196.55 465.58,196.59 467.18,196.64 468.78,196.67 470.38,196.71 471.98,196.74 473.59,196.77 475.19,196.80 476.79,196.83 478.39,196.86 479.99,196.89 481.59,196.92 483.19,196.94 484.79,196.97 486.39,196.99 487.99,197.01 489.59,197.03 491.19,197.05 492.80,197.06 494.40,197.08 496.00,197.09 497.60,197.09 499.20,197.10 500.80,197.10 500.80,241.60 499.20,241.60 497.60,241.60 496.00,241.60 494.40,241.60 492.80,241.60 491.19,241.60 489.59,241.60 487.99,241.60 486.39,241.60 484.79,241.60 483.19,241.60 481.59,241.60 479.99,241.60 478.39,241.60 476.79,241.60 475.19,241.60 473.59,241.60 471.98,241.60 470.38,241.60 468.78,241.60 467.18,241.60 465.58,241.60 463.98,241.60 462.38,241.60 460.78,241.60 459.18,241.60 457.58,241.60 455.98,241.60 454.38,241.60 452.77,241.60 451.17,241.60 449.57,241.60 447.97,241.60 446.37,241.60 444.77,241.60 443.17,241.60 441.57,241.60 439.97,241.60 438.37,241.60 436.77,241.60 435.17,241.60 433.56,241.60 431.96,241.60 430.36,241.60 428.76,241.60 427.16,241.60 425.56,241.60 423.96,241.60 422.36,241.60 420.76,241.60 419.16,241.60 417.56,241.60 415.96,241.60 414.35,241.60 412.75,241.60 411.15,241.60 409.55,241.60 407.95,241.60 406.35,241.60 404.75,241.60 403.15,241.60 401.55,241.60 399.95,241.60 398.35,241.60 396.75,241.60 395.14,241.60 393.54,241.60 391.94,241.60 390.34,241.60 388.74,241.60 387.14,241.60 385.54,241.60 383.94,241.60 382.34,241.60 380.74,241.60 379.14,241.60 377.54,241.60 375.93,241.60 374.33,241.60 372.73,241.60 371.13,241.60 369.53,241.60 367.93,241.60 366.33,241.60 364.73,241.60 363.13,241.60 361.53,241.60 359.93,241.60 358.33,241.60 356.72,241.60 355.12,241.60 353.52,241.60 351.92,241.60 350.32,241.60 348.72,241.60 347.12,241.60 345.52,241.60 343.92,241.60 342.32,241.60 340.72,241.60 339.12,241.60 337.51,241.60 335.91,241.60 334.31,241.60 332.71,241.60 331.11,241.60 329.51,241.60 327.91,241.60 326.31,241.60 324.71,241.60 323.11,241.60 321.51,241.60 319.91,241.60 318.30,241.60 316.70,241.60 315.10,241.60 313.50,241.60 311.90,241.60 310.30,241.60" fill="#124c81"/>
<polygon points="310.30,233.80 311.90,233.80 313.50,233.78 315.10,233.76 316.70,233.73 318.30,233.70 319.91,233.66 321.51,233.61 323.11,233.55 324.71,233.45 326.31,233.32 327.91,233.18 329.51,233.04 331.11,232.92 332.71,232.81 334.31,232.70 335.91,232.59 337.51,232.49 339.12,232.38 340.72,232.27 342.32,232.15 343.92,232.02 345.52,231.89 347.12,231.74 348.72,231.58 350.32,231.39 351.92,231.17 353.52,230.94 355.12,230.68 356.72,230.40 358.33,230.11 359.93,229.81 361.53,229.50 363.13,229.17 364.73,228.81 366.33,228.44 367.93,228.05 369.53,227.65 371.13,227.23 372.73,226.80 374.33,226.36 375.93,225.91 377.54,225.45 379.14,224.98 380.74,224.49 382.34,223.97 383.94,223.43 385.54,222.88 387.14,222.32 388.74,221.75 390.34,221.18 391.94,220.61 393.54,220.05 395.14,219.49 396.75,218.92 398.35,218.34 399.95,217.77 401.55,217.19 403.15,216.63 404.75,216.08 406.35,215.55 407.95,215.03 409.55,214.53 411.15,214.04 412.75,213.55 414.35,213.08 415.96,212.61 417.56,212.15 419.16,211.69 420.76,211.25 422.36,210.81 423.96,210.39 425.56,209.98 427.16,209.56 428.76,209.14 430.36,208.70 431.96,208.21 433.56,207.69 435.17,207.16 436.77,206.64 438.37,206.14 439.97,205.70 441.57,205.32 443.17,205.03 444.77,204.76 446.37,204.50 447.97,204.26 449.57,204.04 451.17,203.84 452.77,203.65 454.38,203.47 455.98,203.31 457.58,203.16 459.18,203.03 460.78,202.90 462.38,202.78 463.98,202.66 465.58,202.55 467.18,202.44 468.78,202.35 470.38,202.26 471.98,202.18 473.59,202.11 475.19,202.05 476.79,202.00 478.39,201.96 479.99,201.91 481.59,201.87 483.19,201.84 484.79,201.80 486.39,201.77 487.99,201.73 489.59,201.70 491.19,201.68 492.80,201.66 494.40,201.64 496.00,201.62 497.60,201.61 499.20,201.60 500.80,201.60 500.80,241.60 499.20,241.60 497.60,241.60 496.00,241.60 494.40,241.60 492.80,241.60 491.19,241.60 489.59,241.60 487.99,241.60 486.39,241.60 484.79,241.60 483.19,241.60 481.59,241.60 479.99,241.60 478.39,241.60 476.79,241.60 475.19,241.60 473.59,241.60 471.98,241.60 470.38,241.60 468.78,241.60 467.18,241.60 465.58,241.60 463.98,241.60 462.38,241.60 460.78,241.60 459.18,241.60 457.58,241.60 455.98,241.60 454.38,241.60 452.77,241.60 451.17,241.60 449.57,241.60 447.97,241.60 446.37,241.60 444.77,241.60 443.17,241.60 441.57,241.60 439.97,241.60 438.37,241.60 436.77,241.60 435.17,241.60 433.56,241.60 431.96,241.60 430.36,241.60 428.76,241.60 427.16,241.60 425.56,241.60 423.96,241.60 422.36,241.60 420.76,241.60 419.16,241.60 417.56,241.60 415.96,241.60 414.35,241.60 412.75,241.60 411.15,241.60 409.55,241.60 407.95,241.60 406.35,241.60 404.75,241.60 403.15,241.60 401.55,241.60 399.95,241.60 398.35,241.60 396.75,241.60 395.14,241.60 393.54,241.60 391.94,241.60 390.34,241.60 388.74,241.60 387.14,241.60 385.54,241.60 383.94,241.60 382.34,241.60 380.74,241.60 379.14,241.60 377.54,241.60 375.93,241.60 374.33,241.60 372.73,241.60 371.13,241.60 369.53,241.60 367.93,241.60 366.33,241.60 364.73,241.60 363.13,241.60 361.53,241.60 359.93,241.60 358.33,241.60 356.72,241.60 355.12,241.60 353.52,241.60 351.92,241.60 350.32,241.60 348.72,241.60 347.12,241.60 345.52,241.60 343.92,241.60 342.32,241.60 340.72,241.60 339.12,241.60 337.51,241.60 335.91,241.60 334.31,241.60 332.71,241.60 331.11,241.60 329.51,241.60 327.91,241.60 326.31,241.60 324.71,241.60 323.11,241.60 321.51,241.60 319.91,241.60 318.30,241.60 316.70,241.60 315.10,241.60 313.50,241.60 311.90,241.60 310.30,241.60" fill="#38a537"/>
<polygon points="310.30,233.80 311.90,233.80 313.50,233.79 315.10,233.78 316.70,233.76 318.30,233.75 319.91,233.73 321.51,233.71 323.11,233.68 324.71,233.65 326.31,233.61 327.91,233.57 329.51,233.52 331.11,233.46 332.71,233.40 334.31,233.33 335.91,233.25 337.51,233.17 339.12,233.08 340.72,232.98 342.32,232.87 343.92,232.76 345.52,232.64 347.12,232.51 348.72,232.38 350.32,232.22 351.92,232.04 353.52,231.83 355.12,231.61 356.72,231.38 358.33,231.14 359.93,230.91 361.53,230.68 363.13,230.43 364.73,230.18 366.33,229.92 367.93,229.66 369.53,229.39 371.13,229.13 372.73,228.86 374.33,228.61 375.93,228.36 377.54,228.12 379.14,227.90 380.74,227.69 382.34,227.48 383.94,227.28 385.54,227.09 387.14,226.90 388.74,226.70 390.34,226.50 391.94,226.30 393.54,226.08 395.14,225.86 396.75,225.62 398.35,225.39 399.95,225.14 401.55,224.90 403.15,224.65 404.75,224.41 406.35,224.17 407.95,223.93 409.55,223.69 411.15,223.45 412.75,223.21 414.35,222.98 415.96,222.74 417.56,222.50 419.16,222.26 420.76,222.01 422.36,221.76 423.96,221.51 425.56,221.25 427.16,221.01 428.76,220.77 430.36,220.55 431.96,220.34 433.56,220.14 435.17,219.94 436.77,219.76 438.37,219.58 439.97,219.41 441.57,219.26 443.17,219.12 444.77,218.98 446.37,218.85 447.97,218.72 449.57,218.60 451.17,218.49 452.77,218.38 454.38,218.28 455.98,218.18 457.58,218.10 459.18,218.02 460.78,217.94 462.38,217.87 463.98,217.80 465.58,217.74 467.18,217.67 468.78,217.62 470.38,217.56 471.98,217.51 473.59,217.47 475.19,217.43 476.79,217.40 478.39,217.37 479.99,217.34 481.59,217.31 483.19,217.28 484.79,217.25 486.39,217.23 487.99,217.20 489.59,217.18 491.19,217.16 492.80,217.14 494.40,217.13 496.00,217.12 497.60,217.11 499.20,217.10 500.80,217.10 500.80,241.60 499.20,241.60 497.60,241.60 496.00,241.60 494.40,241.60 492.80,241.60 491.19,241.60 489.59,241.60 487.99,241.60 486.39,241.60 484.79,241.60 483.19,241.60 481.59,241.60 479.99,241.60 478.39,241.60 476.79,241.60 475.19,241.60 473.59,241.60 471.98,241.60 470.38,241.60 468.78,241.60 467.18,241.60 465.58,241.60 463.98,241.60 462.38,241.60 460.78,241.60 459.18,241.60 457.58,241.60 455.98,241.60 454.38,241.60 452.77,241.60 451.17,241.60 449.57,241.60 447.97,241.60 446.37,241.60 444.77,241.60 443.17,241.60 441.57,241.60 439.97,241.60 438.37,241.60 436.77,241.60 435.17,241.60 433.56,241.60 431.96,241.60 430.36,241.60 428.76,241.60 427.16,241.60 425.56,241.60 423.96,241.60 422.36,241.60 420.76,241.60 419.16,241.60 417.56,241.60 415.96,241.60 414.35,241.60 412.75,241.60 411.15,241.60 409.55,241.60 407.95,241.60 406.35,241.60 404.75,241.60 403.15,241.60 401.55,241.60 399.95,241.60 398.35,241.60 396.75,241.60 395.14,241.60 393.54,241.60 391.94,241.60 390.34,241.60 388.74,241.60 387.14,241.60 385.54,241.60 383.94,241.60 382.34,241.60 380.74,241.60 379.14,241.60 377.54,241.60 375.93,241.60 374.33,241.60 372.73,241.60 371.13,241.60 369.53,241.60 367.93,241.60 366.33,241.60 364.73,241.60 363.13,241.60 361.53,241.60 359.93,241.60 358.33,241.60 356.72,241.60 355.12,241.60 353.52,241.60 351.92,241.60 350.32,241.60 348.72,241.60 347.12,241.60 345.52,241.60 343.92,241.60 342.32,241.60 340.72,241.60 339.12,241.60 337.51,241.60 335.91,241.60 334.31,241.60 332.71,241.60 331.11,241.60 329.51,241.60 327.91,241.60 326.31,241.60 324.71,241.60 323.11,241.60 321.51,241.60 319.91,241.60 318.30,241.60 316.70,241.60 315.10,241.60 313.50,241.60 311.90,241.60 310.30,241.60" fill="#f59100"/>
<polygon points="310.30,239.30 311.90,239.28 313.50,239.26 315.10,239.24 316.70,239.21 318.30,239.19 319.91,239.15 321.51,239.12 323.11,239.08 324.71,239.04 326.31,239.00 327.91,238.96 329.51,238.91 331.11,238.87 332.71,238.82 334.31,238.77 335.91,238.71 337.51,238.65 339.12,238.59 340.72,238.52 342.32,238.44 343.92,238.36 345.52,238.28 347.12,238.18 348.72,238.09 350.32,237.96 351.92,237.81 353.52,237.64 355.12,237.45 356.72,237.26 358.33,237.08 359.93,236.91 361.53,236.75 363.13,236.58 364.73,236.42 366.33,236.26 367.93,236.10 369.53,235.94 371.13,235.78 372.73,235.62 374.33,235.47 375.93,235.32 377.54,235.18 379.14,235.04 380.74,234.90 382.34,234.77 383.94,234.65 385.54,234.53 387.14,234.41 388.74,234.28 390.34,234.16 391.94,234.02 393.54,233.89 395.14,233.74 396.75,233.59 398.35,233.44 399.95,233.29 401.55,233.13 403.15,232.97 404.75,232.81 406.35,232.65 407.95,232.48 409.55,232.32 411.15,232.15 412.75,231.98 414.35,231.81 415.96,231.64 417.56,231.48 419.16,231.31 420.76,231.14 422.36,230.98 423.96,230.81 425.56,230.64 427.16,230.48 428.76,230.32 430.36,230.17 431.96,230.01 433.56,229.86 435.17,229.71 436.77,229.57 438.37,229.43 439.97,229.29 441.57,229.15 443.17,229.02 444.77,228.89 446.37,228.76 447.97,228.62 449.57,228.50 451.17,228.37 452.77,228.25 454.38,228.13 455.98,228.02 457.58,227.92 459.18,227.82 460.78,227.73 462.38,227.64 463.98,227.55 465.58,227.46 467.18,227.38 468.78,227.30 470.38,227.22 471.98,227.16 473.59,227.10 475.19,227.04 476.79,227.00 478.39,226.96 479.99,226.92 481.59,226.88 483.19,226.84 484.79,226.81 486.39,226.77 487.99,226.74 489.59,226.71 491.19,226.68 492.80,226.66 494.40,226.64 496.00,226.62 497.60,226.61 499.20,226.60 500.80,226.60 500.80,243.60 499.20,243.60 497.60,243.60 496.00,243.60 494.40,243.60 492.80,243.60 491.19,243.60 489.59,243.60 487.99,243.60 486.39,243.60 484.79,243.60 483.19,243.60 481.59,243.60 479.99,243.60 478.39,243.60 476.79,243.60 475.19,243.60 473.59,243.60 471.98,243.60 470.38,243.60 468.78,243.60 467.18,243.60 465.58,243.60 463.98,243.60 462.38,243.60 460.78,243.60 459.18,243.60 457.58,243.60 455.98,243.60 454.38,243.60 452.77,243.60 451.17,243.60 449.57,243.60 447.97,243.60 446.37,243.60 444.77,243.60 443.17,243.60 441.57,243.60 439.97,243.60 438.37,243.60 436.77,243.60 435.17,243.60 433.56,243.60 431.96,243.60 430.36,243.60 428.76,243.60 427.16,243.60 425.56,243.60 423.96,243.60 422.36,243.60 420.76,243.60 419.16,243.60 417.56,243.60 415.96,243.60 414.35,243.60 412.75,243.60 411.15,243.60 409.55,243.60 407.95,243.60 406.35,243.60 404.75,243.60 403.15,243.60 401.55,243.60 399.95,243.60 398.35,243.60 396.75,243.60 395.14,243.60 393.54,243.60 391.94,243.60 390.34,243.60 388.74,243.60 387.14,243.60 385.54,243.60 383.94,243.60 382.34,243.60 380.74,243.60 379.14,243.60 377.54,243.60 375.93,243.60 374.33,243.60 372.73,243.60 371.13,243.60 369.53,243.60 367.93,243.60 366.33,243.60 364.73,243.60 363.13,243.60 361.53,243.60 359.93,243.60 358.33,243.60 356.72,243.60 355.12,243.60 353.52,243.60 351.92,243.60 350.32,243.60 348.72,243.60 347.12,243.60 345.52,243.60 343.92,243.60 342.32,243.60 340.72,243.60 339.12,243.60 337.51,243.60 335.91,243.60 334.31,243.60 332.71,243.60 331.11,243.60 329.51,243.60 327.91,243.60 326.31,243.60 324.71,243.60 323.11,243.60 321.51,243.60 319.91,243.60 318.30,243.60 316.70,243.60 315.10,243.60 313.50,243.60 311.90,243.60 310.30,243.60" fill="#2aa8e0"/>
<rect x="310.2" y="164.0" width="1" height="79.79999999999998" fill="#000" fill-opacity="0.45"/>
<rect x="310.3" y="242.7" width="189.89999999999998" height="0.9" fill="#000" fill-opacity="0.12"/>
<rect x="499.8" y="164.0" width="1" height="79.6" fill="#000" fill-opacity="0.55"/>
<text x="420" y="173.1" font-size="5.6" fill="#ffffff" font-weight="normal" text-anchor="start" textLength="23" lengthAdjust="spacingAndGlyphs" stroke="#ffffff" stroke-width="0.12">C1 (2mut)</text>
<text x="420" y="179.2" font-size="5.6" fill="#ffffff" font-weight="normal" text-anchor="start" textLength="30.8" lengthAdjust="spacingAndGlyphs" stroke="#ffffff" stroke-width="0.12">EZH2 G159R</text>
<text x="420" y="186.2" font-size="5.6" fill="#ffffff" font-weight="normal" text-anchor="start" textLength="61.5" lengthAdjust="spacingAndGlyphs" stroke="#ffffff" stroke-width="0.12">PTEN P246_L247insTLCV</text>
<text x="324.4" y="207.5" font-size="5.6" fill="#ffffff" font-weight="normal" text-anchor="start" textLength="24.1" lengthAdjust="spacingAndGlyphs" stroke="#ffffff" stroke-width="0.12">C2 (1mut)</text>
<text x="324.4" y="214.1" font-size="5.6" fill="#ffffff" font-weight="normal" text-anchor="start" textLength="31.6" lengthAdjust="spacingAndGlyphs" stroke="#ffffff" stroke-width="0.12">EZH2 G159R</text>
<text x="427.6" y="209.8" font-size="5.6" fill="#ffffff" font-weight="normal" text-anchor="start" textLength="23" lengthAdjust="spacingAndGlyphs" stroke="#ffffff" stroke-width="0.12">C3 (2mut)</text>
<text x="427.6" y="216.0" font-size="5.6" fill="#ffffff" font-weight="normal" text-anchor="start" textLength="70.1" lengthAdjust="spacingAndGlyphs" stroke="#ffffff" stroke-width="0.12">EZH2 G159R; NTSC2 R367Q</text>
<text x="446" y="225.2" font-size="5.3" fill="#fde9cf" font-weight="normal" text-anchor="start" textLength="35.6" lengthAdjust="spacingAndGlyphs">Subclones (14)</text>
<text x="467.8" y="237.9" font-size="6.0" fill="#e8f6fc" font-weight="normal" text-anchor="start" textLength="8.1" lengthAdjust="spacingAndGlyphs">WT</text>
<rect x="0.5" y="0.5" width="519" height="260" fill="none" stroke="#5a5a5a" stroke-width="1"/>
</svg>
</body></html>
